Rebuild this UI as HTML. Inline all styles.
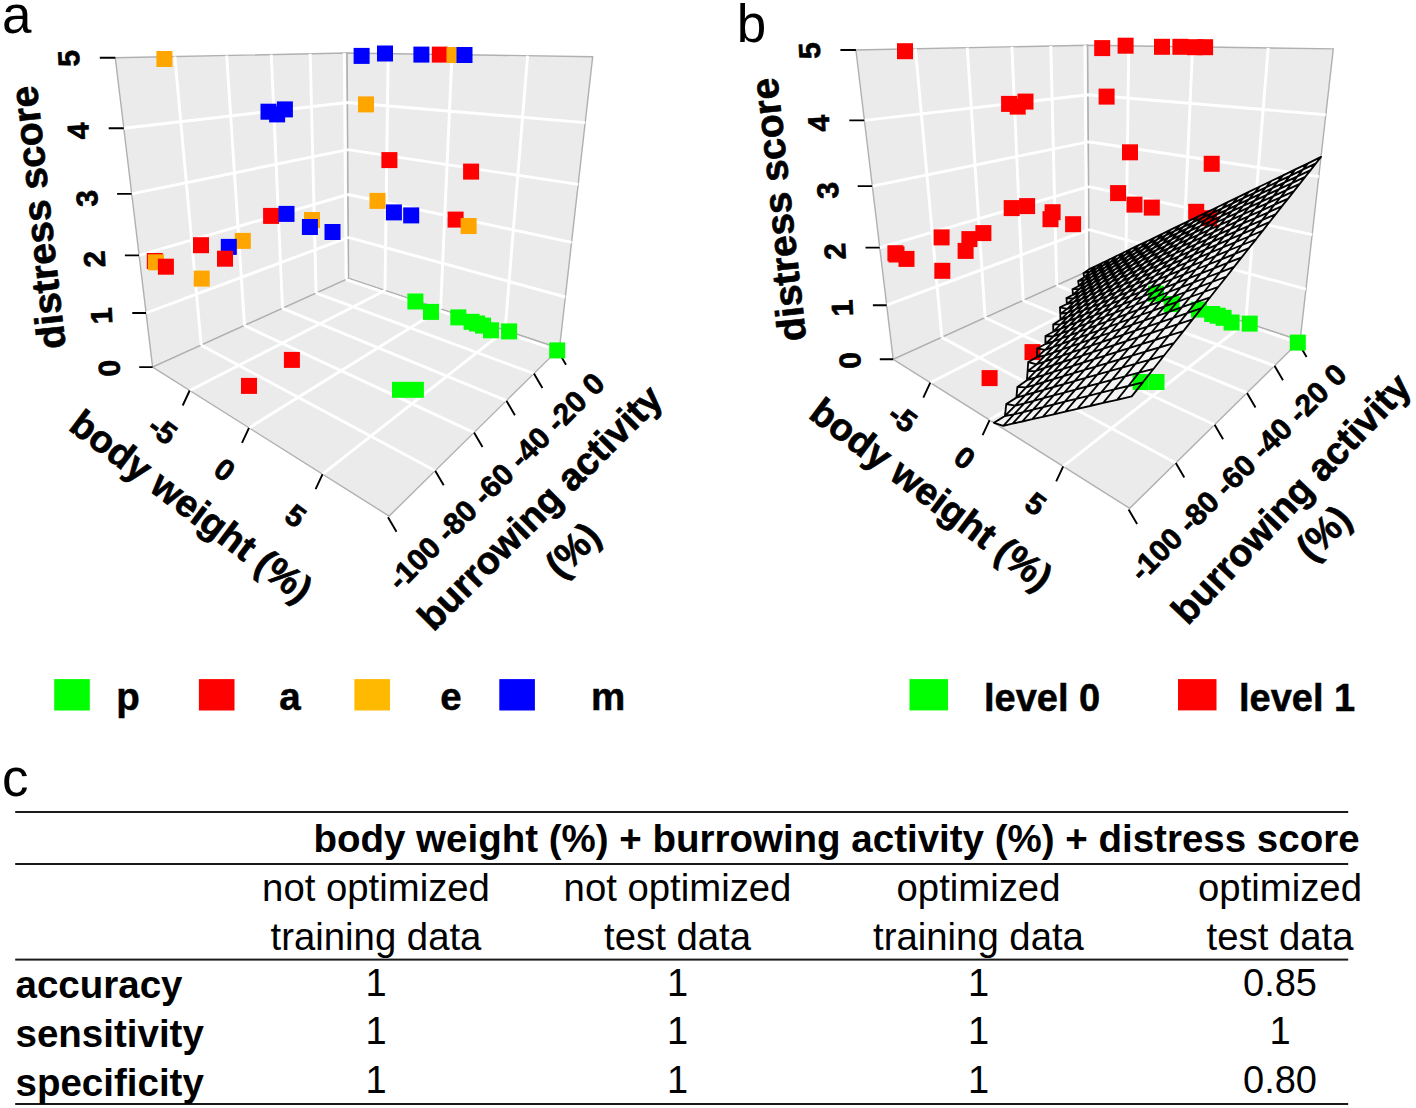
<!DOCTYPE html><html><head><meta charset="utf-8"><style>html,body{margin:0;padding:0;background:#fff;}svg{display:block;} text{font-family:"Liberation Sans",sans-serif;fill:#000;}</style></head><body>
<svg width="1416" height="1108" viewBox="0 0 1416 1108">
<text transform="translate(16.8,0) rotate(0)" x="0" y="33.3" font-size="53" font-weight="normal" text-anchor="middle">a</text>
<text transform="translate(751.5,0.0) rotate(0)" x="0" y="41.5" font-size="53" font-weight="normal" text-anchor="middle">b</text>
<text transform="translate(15.2,0.0) rotate(0)" x="0" y="795.8" font-size="53" font-weight="normal" text-anchor="middle">c</text>
<g id="pa">
<polygon points="152.6,367.1 115.3,57.8 347.1,53.0 348.6,278.4" fill="#ebebeb" stroke="#b0b0b0" stroke-width="1.4"/>
<polygon points="348.6,278.4 347.1,53.0 592.7,56.7 559.5,348.4" fill="#ebebeb" stroke="#b0b0b0" stroke-width="1.4"/>
<polygon points="152.6,367.1 348.6,278.4 559.5,348.4 389.1,516.1" fill="#ebebeb" stroke="#b0b0b0" stroke-width="1.4"/>
<path d="M201.2 345.2L174.8 56.5 M244.5 325.6L226.7 55.5 M282.5 308.4L271.3 54.6 M316.1 293.1L310.2 53.8 M346.1 279.6L344.3 53.1 M146.1 313.0L348.3 237.4 M139.1 255.4L348.0 194.5 M131.7 193.9L347.7 149.6 M123.8 128.2L347.4 102.5 M385.0 290.5L388.2 53.6 M440.6 309.0L452.0 54.6 M505.1 330.3L527.6 55.7 M348.3 237.4L565.3 297.0 M348.0 194.5L571.6 242.4 M347.7 149.6L578.2 184.4 M347.4 102.5L585.2 122.6 M189.7 390.5L385.0 290.5 M249.0 427.9L440.6 309.0 M322.6 474.2L505.1 330.3 M201.2 345.2L435.2 470.8 M244.5 325.6L474.0 432.6 M282.5 308.4L506.4 400.7 M316.1 293.1L533.9 373.6 M346.1 279.6L557.5 350.3" stroke="#ffffff" stroke-width="2.9" fill="none"/>
<path d="M139.2 367.1L152.6 367.1 M132.3 313.0L146.1 313.0 M124.9 255.4L139.1 255.4 M117.1 193.9L131.7 193.9 M108.7 128.2L123.8 128.2 M99.8 57.8L115.3 57.8 M189.7 390.5L182.7 405.5 M249.0 427.9L242.0 442.9 M322.6 474.2L315.6 489.2 M388.0 517.2L396.5 531.7 M435.2 470.8L443.7 485.3 M474.0 432.6L482.5 447.1 M506.4 400.7L514.9 415.2 M533.9 373.6L542.4 388.1 M557.5 350.3L566.0 364.8" stroke="#000" stroke-width="1.9" fill="none"/>
<rect x="353.6" y="47.9" width="16" height="16" fill="#0000ff"/>
<rect x="377.0" y="45.5" width="16" height="16" fill="#0000ff"/>
<rect x="413.4" y="46.6" width="16" height="16" fill="#0000ff"/>
<rect x="431.8" y="46.6" width="16" height="16" fill="#ff0000"/>
<rect x="446.5" y="47.0" width="16" height="16" fill="#ffa500"/>
<rect x="456.5" y="47.0" width="16" height="16" fill="#0000ff"/>
<rect x="156.4" y="51.0" width="16" height="16" fill="#ffa500"/>
<rect x="260.5" y="103.7" width="16" height="16" fill="#0000ff"/>
<rect x="269.1" y="106.4" width="16" height="16" fill="#0000ff"/>
<rect x="276.9" y="101.4" width="16" height="16" fill="#0000ff"/>
<rect x="358.0" y="96.4" width="16" height="16" fill="#ffa500"/>
<rect x="381.4" y="152.1" width="16" height="16" fill="#ff0000"/>
<rect x="463.1" y="163.6" width="16" height="16" fill="#ff0000"/>
<rect x="369.5" y="192.9" width="16" height="16" fill="#ffa500"/>
<rect x="385.9" y="204.4" width="16" height="16" fill="#0000ff"/>
<rect x="403.2" y="207.4" width="16" height="16" fill="#0000ff"/>
<rect x="447.6" y="211.6" width="16" height="16" fill="#ff0000"/>
<rect x="460.6" y="218.0" width="16" height="16" fill="#ffa500"/>
<rect x="263.1" y="207.9" width="16" height="16" fill="#ff0000"/>
<rect x="278.5" y="205.9" width="16" height="16" fill="#0000ff"/>
<rect x="304.0" y="212.0" width="16" height="16" fill="#ffa500"/>
<rect x="301.9" y="219.0" width="16" height="16" fill="#0000ff"/>
<rect x="324.5" y="224.0" width="16" height="16" fill="#0000ff"/>
<rect x="146.8" y="253.0" width="16" height="16" fill="#ff0000"/>
<rect x="147.9" y="254.3" width="16" height="16" fill="#ffa500"/>
<rect x="157.9" y="258.7" width="16" height="16" fill="#ff0000"/>
<rect x="193.0" y="237.2" width="16" height="16" fill="#ff0000"/>
<rect x="234.8" y="232.9" width="16" height="16" fill="#ffa500"/>
<rect x="220.8" y="238.9" width="16" height="16" fill="#0000ff"/>
<rect x="217.0" y="250.7" width="16" height="16" fill="#ff0000"/>
<rect x="193.7" y="270.6" width="16" height="16" fill="#ffa500"/>
<rect x="283.9" y="351.9" width="16" height="16" fill="#ff0000"/>
<rect x="241.0" y="377.9" width="16" height="16" fill="#ff0000"/>
<rect x="407.4" y="293.5" width="16" height="16" fill="#00ff00"/>
<rect x="423.0" y="303.9" width="16" height="16" fill="#00ff00"/>
<rect x="450.3" y="309.4" width="16" height="16" fill="#00ff00"/>
<rect x="463.6" y="313.8" width="16" height="16" fill="#00ff00"/>
<rect x="469.1" y="315.5" width="16" height="16" fill="#00ff00"/>
<rect x="475.0" y="317.6" width="16" height="16" fill="#00ff00"/>
<rect x="483.0" y="322.3" width="16" height="16" fill="#00ff00"/>
<rect x="501.1" y="323.4" width="16" height="16" fill="#00ff00"/>
<rect x="549.2" y="342.4" width="16" height="16" fill="#00ff00"/>
<rect x="392.0" y="381.8" width="16" height="16" fill="#00ff00"/>
<rect x="407.9" y="381.8" width="16" height="16" fill="#00ff00"/>
</g>
<text transform="translate(37.6,217.5) rotate(-96.3)" x="0" y="13.6" font-size="39" font-weight="bold" text-anchor="middle" stroke="#000" stroke-width="0.7">distress score</text>
<text transform="translate(109.2,368.2) rotate(-92.7)" x="0" y="10.5" font-size="30" font-weight="bold" text-anchor="middle" stroke="#000" stroke-width="0.7">0</text>
<text transform="translate(101.4,316.0) rotate(-92.7)" x="0" y="10.5" font-size="30" font-weight="bold" text-anchor="middle" stroke="#000" stroke-width="0.7">1</text>
<text transform="translate(94.3,259.1) rotate(-92.7)" x="0" y="10.5" font-size="30" font-weight="bold" text-anchor="middle" stroke="#000" stroke-width="0.7">2</text>
<text transform="translate(86.9,198.3) rotate(-92.7)" x="0" y="10.5" font-size="30" font-weight="bold" text-anchor="middle" stroke="#000" stroke-width="0.7">3</text>
<text transform="translate(78.1,131.1) rotate(-92.7)" x="0" y="10.5" font-size="30" font-weight="bold" text-anchor="middle" stroke="#000" stroke-width="0.7">4</text>
<text transform="translate(68.7,58.5) rotate(-92.7)" x="0" y="10.5" font-size="30" font-weight="bold" text-anchor="middle" stroke="#000" stroke-width="0.7">5</text>
<text transform="translate(191.5,506.0) rotate(37)" x="0" y="13.3" font-size="38" font-weight="bold" text-anchor="middle" stroke="#000" stroke-width="0.7">body weight (%)</text>
<text transform="translate(162.7,429.9) rotate(36.5)" x="0" y="10.5" font-size="30" font-weight="bold" text-anchor="middle" stroke="#000" stroke-width="0.7">-5</text>
<text transform="translate(224.8,469.8) rotate(36.5)" x="0" y="10.5" font-size="30" font-weight="bold" text-anchor="middle" stroke="#000" stroke-width="0.7">0</text>
<text transform="translate(295.8,515.8) rotate(36.5)" x="0" y="10.5" font-size="30" font-weight="bold" text-anchor="middle" stroke="#000" stroke-width="0.7">5</text>
<text transform="translate(495.9,481.2) rotate(-45)" x="0" y="10.5" font-size="30" font-weight="bold" text-anchor="middle" stroke="#000" stroke-width="0.7">-100 -80 -60 -40 -20 0</text>
<text transform="translate(539.7,507.3) rotate(-45)" x="0" y="13.3" font-size="38" font-weight="bold" text-anchor="middle" stroke="#000" stroke-width="0.7">burrowing activity</text>
<text transform="translate(572.4,549.8) rotate(-45)" x="0" y="13.3" font-size="38" font-weight="bold" text-anchor="middle" stroke="#000" stroke-width="0.7">(%)</text>
<g transform="translate(740.6,-7.8)">
<polygon points="152.6,367.1 115.3,57.8 347.1,53.0 348.6,278.4" fill="#ebebeb" stroke="#b0b0b0" stroke-width="1.4"/>
<polygon points="348.6,278.4 347.1,53.0 592.7,56.7 559.5,348.4" fill="#ebebeb" stroke="#b0b0b0" stroke-width="1.4"/>
<polygon points="152.6,367.1 348.6,278.4 559.5,348.4 389.1,516.1" fill="#ebebeb" stroke="#b0b0b0" stroke-width="1.4"/>
<path d="M201.2 345.2L174.8 56.5 M244.5 325.6L226.7 55.5 M282.5 308.4L271.3 54.6 M316.1 293.1L310.2 53.8 M346.1 279.6L344.3 53.1 M146.1 313.0L348.3 237.4 M139.1 255.4L348.0 194.5 M131.7 193.9L347.7 149.6 M123.8 128.2L347.4 102.5 M385.0 290.5L388.2 53.6 M440.6 309.0L452.0 54.6 M505.1 330.3L527.6 55.7 M348.3 237.4L565.3 297.0 M348.0 194.5L571.6 242.4 M347.7 149.6L578.2 184.4 M347.4 102.5L585.2 122.6 M189.7 390.5L385.0 290.5 M249.0 427.9L440.6 309.0 M322.6 474.2L505.1 330.3 M201.2 345.2L435.2 470.8 M244.5 325.6L474.0 432.6 M282.5 308.4L506.4 400.7 M316.1 293.1L533.9 373.6 M346.1 279.6L557.5 350.3" stroke="#ffffff" stroke-width="2.9" fill="none"/>
<path d="M139.2 367.1L152.6 367.1 M132.3 313.0L146.1 313.0 M124.9 255.4L139.1 255.4 M117.1 193.9L131.7 193.9 M108.7 128.2L123.8 128.2 M99.8 57.8L115.3 57.8 M189.7 390.5L182.7 405.5 M249.0 427.9L242.0 442.9 M322.6 474.2L315.6 489.2 M388.0 517.2L396.5 531.7 M435.2 470.8L443.7 485.3 M474.0 432.6L482.5 447.1 M506.4 400.7L514.9 415.2 M533.9 373.6L542.4 388.1 M557.5 350.3L566.0 364.8" stroke="#000" stroke-width="1.9" fill="none"/>
<path d="M343.6 285.2L349.4 279.4L342.9 281.0Z M342.9 281.0L349.4 279.4L355.2 273.9L348.6 277.0Z M338.2 293.8L344.3 287.8L337.6 288.8Z M337.6 288.8L344.3 287.8L350.3 282.0L343.6 285.2Z M343.6 285.2L350.3 282.0L356.1 276.2L349.4 279.4Z M349.4 279.4L356.1 276.2L361.9 270.6L355.2 273.9Z M332.4 302.6L338.8 296.8L331.9 297.0Z M331.9 297.0L338.8 296.8L345.0 290.6L338.2 293.8Z M338.2 293.8L345.0 290.6L351.1 284.6L344.3 287.8Z M344.3 287.8L351.1 284.6L357.1 278.7L350.3 282.0Z M350.3 282.0L357.1 278.7L363.0 272.9L356.1 276.2Z M356.1 276.2L363.0 272.9L368.8 267.3L361.9 270.6Z M326.3 311.8L332.9 306.3L325.9 305.8Z M325.9 305.8L332.9 306.3L339.5 299.9L332.4 302.6Z M332.4 302.6L339.5 299.9L345.8 293.6L338.8 296.8Z M338.8 296.8L345.8 293.6L352.1 287.4L345.0 290.6Z M345.0 290.6L352.1 287.4L358.2 281.3L351.1 284.6Z M351.1 284.6L358.2 281.3L364.2 275.4L357.1 278.7Z M357.1 278.7L364.2 275.4L370.1 269.6L363.0 272.9Z M363.0 272.9L370.1 269.6L375.8 263.8L368.8 267.3Z M319.7 321.7L326.7 316.6L319.4 315.2Z M319.4 315.2L326.7 316.6L333.5 309.8L326.3 311.8Z M326.3 311.8L333.5 309.8L340.1 303.2L332.9 306.3Z M332.9 306.3L340.1 303.2L346.7 296.7L339.5 299.9Z M339.5 299.9L346.7 296.7L353.0 290.3L345.8 293.6Z M345.8 293.6L353.0 290.3L359.3 284.1L352.1 287.4Z M352.1 287.4L359.3 284.1L365.4 277.9L358.2 281.3Z M358.2 281.3L365.4 277.9L371.4 272.0L364.2 275.4Z M364.2 275.4L371.4 272.0L377.3 266.1L370.1 269.6Z M370.1 269.6L377.3 266.1L383.1 260.3L375.8 263.8Z M319.9 327.6L327.1 320.4L319.7 321.7Z M319.7 321.7L327.1 320.4L334.0 313.4L326.7 316.6Z M326.7 316.6L334.0 313.4L340.9 306.6L333.5 309.8Z M333.5 309.8L340.9 306.6L347.5 299.9L340.1 303.2Z M340.1 303.2L347.5 299.9L354.1 293.3L346.7 296.7Z M346.7 296.7L354.1 293.3L360.4 286.9L353.0 290.3Z M353.0 290.3L360.4 286.9L366.7 280.6L359.3 284.1Z M359.3 284.1L366.7 280.6L372.8 274.5L365.4 277.9Z M365.4 277.9L372.8 274.5L378.8 268.4L371.4 272.0Z M371.4 272.0L378.8 268.4L384.7 262.5L377.3 266.1Z M377.3 266.1L384.7 262.5L390.5 256.7L383.1 260.3Z M312.7 339.5L320.2 331.9L312.6 332.4Z M312.6 332.4L320.2 331.9L327.5 324.5L319.9 327.6Z M319.9 327.6L327.5 324.5L334.6 317.3L327.1 320.4Z M327.1 320.4L334.6 317.3L341.6 310.2L334.0 313.4Z M334.0 313.4L341.6 310.2L348.4 303.3L340.9 306.6Z M340.9 306.6L348.4 303.3L355.1 296.5L347.5 299.9Z M347.5 299.9L355.1 296.5L361.7 289.9L354.1 293.3Z M354.1 293.3L361.7 289.9L368.1 283.4L360.4 286.9Z M360.4 286.9L368.1 283.4L374.3 277.1L366.7 280.6Z M366.7 280.6L374.3 277.1L380.5 270.9L372.8 274.5Z M372.8 274.5L380.5 270.9L386.5 264.8L378.8 268.4Z M378.8 268.4L386.5 264.8L392.3 258.9L384.7 262.5Z M384.7 262.5L392.3 258.9L398.1 253.0L390.5 256.7Z M304.8 351.8L312.7 344.3L304.9 343.8Z M304.9 343.8L312.7 344.3L320.4 336.4L312.7 339.5Z M312.7 339.5L320.4 336.4L327.9 328.8L320.2 331.9Z M320.2 331.9L327.9 328.8L335.2 321.3L327.5 324.5Z M327.5 324.5L335.2 321.3L342.4 314.0L334.6 317.3Z M334.6 317.3L342.4 314.0L349.4 306.9L341.6 310.2Z M341.6 310.2L349.4 306.9L356.2 299.9L348.4 303.3Z M348.4 303.3L356.2 299.9L362.9 293.1L355.1 296.5Z M355.1 296.5L362.9 293.1L369.5 286.4L361.7 289.9Z M361.7 289.9L369.5 286.4L375.9 279.9L368.1 283.4Z M368.1 283.4L375.9 279.9L382.2 273.5L374.3 277.1Z M374.3 277.1L382.2 273.5L388.3 267.2L380.5 270.9Z M380.5 270.9L388.3 267.2L394.3 261.1L386.5 264.8Z M386.5 264.8L394.3 261.1L400.2 255.1L392.3 258.9Z M392.3 258.9L400.2 255.1L405.9 249.3L398.1 253.0Z M296.3 364.9L304.6 357.6L296.6 356.3Z M296.6 356.3L304.6 357.6L312.7 349.3L304.8 351.8Z M304.8 351.8L312.7 349.3L320.6 341.2L312.7 344.3Z M312.7 344.3L320.6 341.2L328.4 333.3L320.4 336.4Z M320.4 336.4L328.4 333.3L335.9 325.6L327.9 328.8Z M327.9 328.8L335.9 325.6L343.2 318.0L335.2 321.3Z M335.2 321.3L343.2 318.0L350.4 310.6L342.4 314.0Z M342.4 314.0L350.4 310.6L357.4 303.4L349.4 306.9Z M349.4 306.9L357.4 303.4L364.3 296.4L356.2 299.9Z M356.2 299.9L364.3 296.4L371.0 289.5L362.9 293.1Z M362.9 293.1L371.0 289.5L377.5 282.8L369.5 286.4Z M369.5 286.4L377.5 282.8L384.0 276.2L375.9 279.9Z M375.9 279.9L384.0 276.2L390.2 269.8L382.2 273.5Z M382.2 273.5L390.2 269.8L396.4 263.5L388.3 267.2Z M388.3 267.2L396.4 263.5L402.4 257.3L394.3 261.1Z M394.3 261.1L402.4 257.3L408.2 251.3L400.2 255.1Z M400.2 255.1L408.2 251.3L414.0 245.4L405.9 249.3Z M287.0 379.1L295.9 372.2L287.6 369.8Z M287.6 369.8L295.9 372.2L304.4 363.3L296.3 364.9Z M296.3 364.9L304.4 363.3L312.8 354.7L304.6 357.6Z M304.6 357.6L312.8 354.7L320.9 346.3L312.7 349.3Z M312.7 349.3L320.9 346.3L328.8 338.1L320.6 341.2Z M320.6 341.2L328.8 338.1L336.6 330.0L328.4 333.3Z M328.4 333.3L336.6 330.0L344.1 322.2L335.9 325.6Z M335.9 325.6L344.1 322.2L351.5 314.6L343.2 318.0Z M343.2 318.0L351.5 314.6L358.7 307.2L350.4 310.6Z M350.4 310.6L358.7 307.2L365.7 299.9L357.4 303.4Z M357.4 303.4L365.7 299.9L372.6 292.8L364.3 296.4Z M364.3 296.4L372.6 292.8L379.3 285.8L371.0 289.5Z M371.0 289.5L379.3 285.8L385.8 279.0L377.5 282.8Z M377.5 282.8L385.8 279.0L392.2 272.4L384.0 276.2Z M384.0 276.2L392.2 272.4L398.5 265.9L390.2 269.8Z M390.2 269.8L398.5 265.9L404.6 259.6L396.4 263.5Z M396.4 263.5L404.6 259.6L410.6 253.4L402.4 257.3Z M402.4 257.3L410.6 253.4L416.5 247.3L408.2 251.3Z M408.2 251.3L416.5 247.3L422.2 241.4L414.0 245.4Z M286.3 388.0L295.4 378.6L287.0 379.1Z M287.0 379.1L295.4 378.6L304.2 369.3L295.9 372.2Z M295.9 372.2L304.2 369.3L312.8 360.4L304.4 363.3Z M304.4 363.3L312.8 360.4L321.2 351.6L312.8 354.7Z M312.8 354.7L321.2 351.6L329.3 343.1L320.9 346.3Z M320.9 346.3L329.3 343.1L337.3 334.8L328.8 338.1Z M328.8 338.1L337.3 334.8L345.1 326.7L336.6 330.0Z M336.6 330.0L345.1 326.7L352.6 318.8L344.1 322.2Z M344.1 322.2L352.6 318.8L360.0 311.1L351.5 314.6Z M351.5 314.6L360.0 311.1L367.2 303.6L358.7 307.2Z M358.7 307.2L367.2 303.6L374.2 296.2L365.7 299.9Z M365.7 299.9L374.2 296.2L381.1 289.1L372.6 292.8Z M372.6 292.8L381.1 289.1L387.8 282.1L379.3 285.8Z M379.3 285.8L387.8 282.1L394.4 275.2L385.8 279.0Z M385.8 279.0L394.4 275.2L400.8 268.5L392.2 272.4Z M392.2 272.4L400.8 268.5L407.0 262.0L398.5 265.9Z M398.5 265.9L407.0 262.0L413.2 255.6L404.6 259.6Z M404.6 259.6L413.2 255.6L419.1 249.3L410.6 253.4Z M410.6 253.4L419.1 249.3L425.0 243.2L416.5 247.3Z M416.5 247.3L425.0 243.2L430.7 237.2L422.2 241.4Z M275.8 405.4L285.5 395.2L276.8 394.7Z M276.8 394.7L285.5 395.2L294.9 385.3L286.3 388.0Z M286.3 388.0L294.9 385.3L304.0 375.7L295.4 378.6Z M295.4 378.6L304.0 375.7L312.8 366.4L304.2 369.3Z M304.2 369.3L312.8 366.4L321.5 357.3L312.8 360.4Z M312.8 360.4L321.5 357.3L329.9 348.5L321.2 351.6Z M321.2 351.6L329.9 348.5L338.1 339.8L329.3 343.1Z M329.3 343.1L338.1 339.8L346.0 331.4L337.3 334.8Z M337.3 334.8L346.0 331.4L353.8 323.2L345.1 326.7Z M345.1 326.7L353.8 323.2L361.4 315.3L352.6 318.8Z M352.6 318.8L361.4 315.3L368.8 307.5L360.0 311.1Z M360.0 311.1L368.8 307.5L376.0 299.9L367.2 303.6Z M367.2 303.6L376.0 299.9L383.0 292.5L374.2 296.2Z M374.2 296.2L383.0 292.5L389.9 285.2L381.1 289.1Z M381.1 289.1L389.9 285.2L396.6 278.2L387.8 282.1Z M387.8 282.1L396.6 278.2L403.2 271.3L394.4 275.2Z M394.4 275.2L403.2 271.3L409.6 264.5L400.8 268.5Z M400.8 268.5L409.6 264.5L415.8 257.9L407.0 262.0Z M407.0 262.0L415.8 257.9L421.9 251.5L413.2 255.6Z M413.2 255.6L421.9 251.5L427.9 245.2L419.1 249.3Z M419.1 249.3L427.9 245.2L433.7 239.0L425.0 243.2Z M425.0 243.2L433.7 239.0L439.5 233.0L430.7 237.2Z M264.3 423.8L274.6 413.5L265.7 411.8Z M265.7 411.8L274.6 413.5L284.6 402.9L275.8 405.4Z M275.8 405.4L284.6 402.9L294.3 392.6L285.5 395.2Z M285.5 395.2L294.3 392.6L303.7 382.6L294.9 385.3Z M294.9 385.3L303.7 382.6L312.9 372.8L304.0 375.7Z M304.0 375.7L312.9 372.8L321.8 363.4L312.8 366.4Z M312.8 366.4L321.8 363.4L330.4 354.1L321.5 357.3Z M321.5 357.3L330.4 354.1L338.9 345.2L329.9 348.5Z M329.9 348.5L338.9 345.2L347.1 336.4L338.1 339.8Z M338.1 339.8L347.1 336.4L355.1 327.9L346.0 331.4Z M346.0 331.4L355.1 327.9L362.9 319.7L353.8 323.2Z M353.8 323.2L362.9 319.7L370.5 311.6L361.4 315.3Z M361.4 315.3L370.5 311.6L377.9 303.7L368.8 307.5Z M368.8 307.5L377.9 303.7L385.1 296.1L376.0 299.9Z M376.0 299.9L385.1 296.1L392.1 288.6L383.0 292.5Z M383.0 292.5L392.1 288.6L399.0 281.3L389.9 285.2Z M389.9 285.2L399.0 281.3L405.7 274.1L396.6 278.2Z M396.6 278.2L405.7 274.1L412.2 267.2L403.2 271.3Z M403.2 271.3L412.2 267.2L418.6 260.4L409.6 264.5Z M409.6 264.5L418.6 260.4L424.9 253.8L415.8 257.9Z M415.8 257.9L424.9 253.8L431.0 247.3L421.9 251.5Z M421.9 251.5L431.0 247.3L436.9 240.9L427.9 245.2Z M427.9 245.2L436.9 240.9L442.7 234.7L433.7 239.0Z M433.7 239.0L442.7 234.7L448.4 228.7L439.5 233.0Z M253.4 430.6L262.7 433.7L273.3 422.2L264.3 423.8Z M264.3 423.8L273.3 422.2L283.7 411.1L274.6 413.5Z M274.6 413.5L283.7 411.1L293.7 400.3L284.6 402.9Z M284.6 402.9L293.7 400.3L303.5 389.8L294.3 392.6Z M294.3 392.6L303.5 389.8L312.9 379.7L303.7 382.6Z M303.7 382.6L312.9 379.7L322.1 369.8L312.9 372.8Z M312.9 372.8L322.1 369.8L331.1 360.2L321.8 363.4Z M321.8 363.4L331.1 360.2L339.7 350.9L330.4 354.1Z M330.4 354.1L339.7 350.9L348.2 341.8L338.9 345.2Z M338.9 345.2L348.2 341.8L356.4 332.9L347.1 336.4Z M347.1 336.4L356.4 332.9L364.4 324.3L355.1 327.9Z M355.1 327.9L364.4 324.3L372.2 316.0L362.9 319.7Z M362.9 319.7L372.2 316.0L379.8 307.8L370.5 311.6Z M370.5 311.6L379.8 307.8L387.2 299.9L377.9 303.7Z M377.9 303.7L387.2 299.9L394.4 292.1L385.1 296.1Z M385.1 296.1L394.4 292.1L401.5 284.6L392.1 288.6Z M392.1 288.6L401.5 284.6L408.3 277.2L399.0 281.3Z M399.0 281.3L408.3 277.2L415.0 270.0L405.7 274.1Z M405.7 274.1L415.0 270.0L421.6 263.0L412.2 267.2Z M412.2 267.2L421.6 263.0L427.9 256.1L418.6 260.4Z M418.6 260.4L427.9 256.1L434.2 249.4L424.9 253.8Z M424.9 253.8L434.2 249.4L440.3 242.9L431.0 247.3Z M431.0 247.3L440.3 242.9L446.2 236.5L436.9 240.9Z M436.9 240.9L446.2 236.5L452.0 230.3L442.7 234.7Z M442.7 234.7L452.0 230.3L457.7 224.2L448.4 228.7Z M262.7 433.7L271.9 431.5L282.7 419.9L273.3 422.2Z M273.3 422.2L282.7 419.9L293.1 408.6L283.7 411.1Z M283.7 411.1L293.1 408.6L303.2 397.6L293.7 400.3Z M293.7 400.3L303.2 397.6L313.0 387.0L303.5 389.8Z M303.5 389.8L313.0 387.0L322.5 376.7L312.9 379.7Z M312.9 379.7L322.5 376.7L331.7 366.6L322.1 369.8Z M322.1 369.8L331.7 366.6L340.7 356.9L331.1 360.2Z M331.1 360.2L340.7 356.9L349.4 347.5L339.7 350.9Z M339.7 350.9L349.4 347.5L357.9 338.3L348.2 341.8Z M348.2 341.8L357.9 338.3L366.1 329.3L356.4 332.9Z M356.4 332.9L366.1 329.3L374.1 320.6L364.4 324.3Z M364.4 324.3L374.1 320.6L381.9 312.2L372.2 316.0Z M372.2 316.0L381.9 312.2L389.5 303.9L379.8 307.8Z M379.8 307.8L389.5 303.9L396.9 295.9L387.2 299.9Z M387.2 299.9L396.9 295.9L404.1 288.0L394.4 292.1Z M394.4 292.1L404.1 288.0L411.1 280.4L401.5 284.6Z M401.5 284.6L411.1 280.4L418.0 273.0L408.3 277.2Z M408.3 277.2L418.0 273.0L424.7 265.7L415.0 270.0Z M415.0 270.0L424.7 265.7L431.2 258.7L421.6 263.0Z M421.6 263.0L431.2 258.7L437.6 251.8L427.9 256.1Z M427.9 256.1L437.6 251.8L443.8 245.0L434.2 249.4Z M434.2 249.4L443.8 245.0L449.8 238.4L440.3 242.9Z M440.3 242.9L449.8 238.4L455.8 232.0L446.2 236.5Z M446.2 236.5L455.8 232.0L461.5 225.7L452.0 230.3Z M452.0 230.3L461.5 225.7L467.2 219.6L457.7 224.2Z M271.9 431.5L281.6 429.3L292.4 417.5L282.7 419.9Z M282.7 419.9L292.4 417.5L302.9 406.0L293.1 408.6Z M293.1 408.6L302.9 406.0L313.0 394.8L303.2 397.6Z M303.2 397.6L313.0 394.8L322.9 384.0L313.0 387.0Z M313.0 387.0L322.9 384.0L332.4 373.6L322.5 376.7Z M322.5 376.7L332.4 373.6L341.7 363.4L331.7 366.6Z M331.7 366.6L341.7 363.4L350.7 353.5L340.7 356.9Z M340.7 356.9L350.7 353.5L359.4 343.9L349.4 347.5Z M349.4 347.5L359.4 343.9L367.9 334.6L357.9 338.3Z M357.9 338.3L367.9 334.6L376.1 325.6L366.1 329.3Z M366.1 329.3L376.1 325.6L384.1 316.8L374.1 320.6Z M374.1 320.6L384.1 316.8L391.9 308.2L381.9 312.2Z M381.9 312.2L391.9 308.2L399.5 299.9L389.5 303.9Z M389.5 303.9L399.5 299.9L406.9 291.7L396.9 295.9Z M396.9 295.9L406.9 291.7L414.1 283.8L404.1 288.0Z M404.1 288.0L414.1 283.8L421.1 276.1L411.1 280.4Z M411.1 280.4L421.1 276.1L428.0 268.6L418.0 273.0Z M418.0 273.0L428.0 268.6L434.6 261.3L424.7 265.7Z M424.7 265.7L434.6 261.3L441.1 254.2L431.2 258.7Z M431.2 258.7L441.1 254.2L447.5 247.2L437.6 251.8Z M437.6 251.8L447.5 247.2L453.7 240.4L443.8 245.0Z M443.8 245.0L453.7 240.4L459.7 233.8L449.8 238.4Z M449.8 238.4L459.7 233.8L465.6 227.3L455.8 232.0Z M455.8 232.0L465.6 227.3L471.4 221.0L461.5 225.7Z M461.5 225.7L471.4 221.0L477.0 214.8L467.2 219.6Z M281.6 429.3L291.7 427.0L302.6 414.9L292.4 417.5Z M292.4 417.5L302.6 414.9L313.1 403.2L302.9 406.0Z M302.9 406.0L313.1 403.2L323.3 391.9L313.0 394.8Z M313.0 394.8L323.3 391.9L333.1 380.9L322.9 384.0Z M322.9 384.0L333.1 380.9L342.7 370.3L332.4 373.6Z M332.4 373.6L342.7 370.3L352.0 360.0L341.7 363.4Z M341.7 363.4L352.0 360.0L361.0 350.0L350.7 353.5Z M350.7 353.5L361.0 350.0L369.8 340.3L359.4 343.9Z M359.4 343.9L369.8 340.3L378.3 330.8L367.9 334.6Z M367.9 334.6L378.3 330.8L386.5 321.7L376.1 325.6Z M376.1 325.6L386.5 321.7L394.5 312.8L384.1 316.8Z M384.1 316.8L394.5 312.8L402.3 304.1L391.9 308.2Z M391.9 308.2L402.3 304.1L409.9 295.7L399.5 299.9Z M399.5 299.9L409.9 295.7L417.3 287.5L406.9 291.7Z M406.9 291.7L417.3 287.5L424.5 279.5L414.1 283.8Z M414.1 283.8L424.5 279.5L431.5 271.7L421.1 276.1Z M421.1 276.1L431.5 271.7L438.3 264.1L428.0 268.6Z M428.0 268.6L438.3 264.1L444.9 256.8L434.6 261.3Z M434.6 261.3L444.9 256.8L451.4 249.6L441.1 254.2Z M441.1 254.2L451.4 249.6L457.7 242.6L447.5 247.2Z M447.5 247.2L457.7 242.6L463.9 235.7L453.7 240.4Z M453.7 240.4L463.9 235.7L469.9 229.0L459.7 233.8Z M459.7 233.8L469.9 229.0L475.8 222.5L465.6 227.3Z M465.6 227.3L475.8 222.5L481.5 216.2L471.4 221.0Z M471.4 221.0L481.5 216.2L487.1 209.9L477.0 214.8Z M291.7 427.0L302.2 424.6L313.1 412.3L302.6 414.9Z M302.6 414.9L313.1 412.3L323.7 400.4L313.1 403.2Z M313.1 403.2L323.7 400.4L333.9 388.9L323.3 391.9Z M323.3 391.9L333.9 388.9L343.9 377.7L333.1 380.9Z M333.1 380.9L343.9 377.7L353.5 366.9L342.7 370.3Z M342.7 370.3L353.5 366.9L362.8 356.5L352.0 360.0Z M352.0 360.0L362.8 356.5L371.8 346.3L361.0 350.0Z M361.0 350.0L371.8 346.3L380.5 336.5L369.8 340.3Z M369.8 340.3L380.5 336.5L389.0 326.9L378.3 330.8Z M378.3 330.8L389.0 326.9L397.3 317.6L386.5 321.7Z M386.5 321.7L397.3 317.6L405.3 308.6L394.5 312.8Z M394.5 312.8L405.3 308.6L413.1 299.9L402.3 304.1Z M402.3 304.1L413.1 299.9L420.7 291.3L409.9 295.7Z M409.9 295.7L420.7 291.3L428.0 283.0L417.3 287.5Z M417.3 287.5L428.0 283.0L435.2 275.0L424.5 279.5Z M424.5 279.5L435.2 275.0L442.2 267.1L431.5 271.7Z M431.5 271.7L442.2 267.1L449.0 259.5L438.3 264.1Z M438.3 264.1L449.0 259.5L455.6 252.0L444.9 256.8Z M444.9 256.8L455.6 252.0L462.0 244.8L451.4 249.6Z M451.4 249.6L462.0 244.8L468.3 237.7L457.7 242.6Z M457.7 242.6L468.3 237.7L474.4 230.8L463.9 235.7Z M463.9 235.7L474.4 230.8L480.4 224.1L469.9 229.0Z M469.9 229.0L480.4 224.1L486.3 217.6L475.8 222.5Z M475.8 222.5L486.3 217.6L491.9 211.2L481.5 216.2Z M481.5 216.2L491.9 211.2L497.5 204.9L487.1 209.9Z M302.2 424.6L313.2 422.1L324.2 409.5L313.1 412.3Z M313.1 412.3L324.2 409.5L334.8 397.4L323.7 400.4Z M323.7 400.4L334.8 397.4L345.1 385.7L333.9 388.9Z M333.9 388.9L345.1 385.7L355.0 374.4L343.9 377.7Z M343.9 377.7L355.0 374.4L364.6 363.4L353.5 366.9Z M353.5 366.9L364.6 363.4L374.0 352.8L362.8 356.5Z M362.8 356.5L374.0 352.8L383.0 342.5L371.8 346.3Z M371.8 346.3L383.0 342.5L391.7 332.5L380.5 336.5Z M380.5 336.5L391.7 332.5L400.2 322.8L389.0 326.9Z M389.0 326.9L400.2 322.8L408.5 313.4L397.3 317.6Z M397.3 317.6L408.5 313.4L416.5 304.3L405.3 308.6Z M405.3 308.6L416.5 304.3L424.3 295.4L413.1 299.9Z M413.1 299.9L424.3 295.4L431.8 286.8L420.7 291.3Z M420.7 291.3L431.8 286.8L439.2 278.5L428.0 283.0Z M428.0 283.0L439.2 278.5L446.3 270.3L435.2 275.0Z M435.2 275.0L446.3 270.3L453.2 262.4L442.2 267.1Z M442.2 267.1L453.2 262.4L460.0 254.7L449.0 259.5Z M449.0 259.5L460.0 254.7L466.6 247.2L455.6 252.0Z M455.6 252.0L466.6 247.2L473.0 239.9L462.0 244.8Z M462.0 244.8L473.0 239.9L479.3 232.7L468.3 237.7Z M468.3 237.7L479.3 232.7L485.3 225.8L474.4 230.8Z M474.4 230.8L485.3 225.8L491.3 219.0L480.4 224.1Z M480.4 224.1L491.3 219.0L497.1 212.4L486.3 217.6Z M486.3 217.6L497.1 212.4L502.7 206.0L491.9 211.2Z M491.9 211.2L502.7 206.0L508.2 199.7L497.5 204.9Z M313.2 422.1L324.7 419.4L335.7 406.7L324.2 409.5Z M324.2 409.5L335.7 406.7L346.4 394.3L334.8 397.4Z M334.8 397.4L346.4 394.3L356.7 382.4L345.1 385.7Z M345.1 385.7L356.7 382.4L366.7 370.9L355.0 374.4Z M355.0 374.4L366.7 370.9L376.3 359.8L364.6 363.4Z M364.6 363.4L376.3 359.8L385.6 349.0L374.0 352.8Z M374.0 352.8L385.6 349.0L394.6 338.5L383.0 342.5Z M383.0 342.5L394.6 338.5L403.4 328.4L391.7 332.5Z M391.7 332.5L403.4 328.4L411.9 318.6L400.2 322.8Z M400.2 322.8L411.9 318.6L420.1 309.1L408.5 313.4Z M408.5 313.4L420.1 309.1L428.1 299.8L416.5 304.3Z M416.5 304.3L428.1 299.8L435.8 290.9L424.3 295.4Z M424.3 295.4L435.8 290.9L443.4 282.2L431.8 286.8Z M431.8 286.8L443.4 282.2L450.7 273.7L439.2 278.5Z M439.2 278.5L450.7 273.7L457.8 265.5L446.3 270.3Z M446.3 270.3L457.8 265.5L464.7 257.5L453.2 262.4Z M453.2 262.4L464.7 257.5L471.4 249.7L460.0 254.7Z M460.0 254.7L471.4 249.7L478.0 242.1L466.6 247.2Z M466.6 247.2L478.0 242.1L484.4 234.8L473.0 239.9Z M473.0 239.9L484.4 234.8L490.6 227.6L479.3 232.7Z M479.3 232.7L490.6 227.6L496.6 220.6L485.3 225.8Z M485.3 225.8L496.6 220.6L502.5 213.8L491.3 219.0Z M491.3 219.0L502.5 213.8L508.2 207.1L497.1 212.4Z M497.1 212.4L508.2 207.1L513.8 200.7L502.7 206.0Z M502.7 206.0L513.8 200.7L519.3 194.3L508.2 199.7Z M324.7 419.4L336.7 416.7L347.8 403.7L335.7 406.7Z M335.7 406.7L347.8 403.7L358.5 391.1L346.4 394.3Z M346.4 394.3L358.5 391.1L368.8 379.0L356.7 382.4Z M356.7 382.4L368.8 379.0L378.8 367.3L366.7 370.9Z M366.7 370.9L378.8 367.3L388.4 356.0L376.3 359.8Z M376.3 359.8L388.4 356.0L397.8 345.0L385.6 349.0Z M385.6 349.0L397.8 345.0L406.8 334.4L394.6 338.5Z M394.6 338.5L406.8 334.4L415.5 324.1L403.4 328.4Z M403.4 328.4L415.5 324.1L424.0 314.2L411.9 318.6Z M411.9 318.6L424.0 314.2L432.2 304.6L420.1 309.1Z M420.1 309.1L432.2 304.6L440.2 295.2L428.1 299.8Z M428.1 299.8L440.2 295.2L447.9 286.1L435.8 290.9Z M435.8 290.9L447.9 286.1L455.4 277.3L443.4 282.2Z M443.4 282.2L455.4 277.3L462.7 268.8L450.7 273.7Z M450.7 273.7L462.7 268.8L469.7 260.5L457.8 265.5Z M457.8 265.5L469.7 260.5L476.6 252.4L464.7 257.5Z M464.7 257.5L476.6 252.4L483.3 244.5L471.4 249.7Z M471.4 249.7L483.3 244.5L489.8 236.9L478.0 242.1Z M478.0 242.1L489.8 236.9L496.1 229.5L484.4 234.8Z M484.4 234.8L496.1 229.5L502.3 222.3L490.6 227.6Z M490.6 227.6L502.3 222.3L508.3 215.2L496.6 220.6Z M496.6 220.6L508.3 215.2L514.1 208.4L502.5 213.8Z M502.5 213.8L514.1 208.4L519.8 201.7L508.2 207.1Z M508.2 207.1L519.8 201.7L525.3 195.2L513.8 200.7Z M513.8 200.7L525.3 195.2L530.7 188.8L519.3 194.3Z M336.7 416.7L349.4 413.8L360.5 400.5L347.8 403.7Z M347.8 403.7L360.5 400.5L371.2 387.7L358.5 391.1Z M358.5 391.1L371.2 387.7L381.5 375.4L368.8 379.0Z M368.8 379.0L381.5 375.4L391.5 363.5L378.8 367.3Z M378.8 367.3L391.5 363.5L401.1 352.0L388.4 356.0Z M388.4 356.0L401.1 352.0L410.4 340.8L397.8 345.0Z M397.8 345.0L410.4 340.8L419.4 330.1L406.8 334.4Z M406.8 334.4L419.4 330.1L428.2 319.7L415.5 324.1Z M415.5 324.1L428.2 319.7L436.6 309.6L424.0 314.2Z M424.0 314.2L436.6 309.6L444.8 299.8L432.2 304.6Z M432.2 304.6L444.8 299.8L452.7 290.4L440.2 295.2Z M440.2 295.2L452.7 290.4L460.4 281.2L447.9 286.1Z M447.9 286.1L460.4 281.2L467.8 272.3L455.4 277.3Z M455.4 277.3L467.8 272.3L475.1 263.7L462.7 268.8Z M462.7 268.8L475.1 263.7L482.1 255.3L469.7 260.5Z M469.7 260.5L482.1 255.3L488.9 247.1L476.6 252.4Z M476.6 252.4L488.9 247.1L495.5 239.2L483.3 244.5Z M483.3 244.5L495.5 239.2L502.0 231.5L489.8 236.9Z M489.8 236.9L502.0 231.5L508.3 224.0L496.1 229.5Z M496.1 229.5L508.3 224.0L514.4 216.7L502.3 222.3Z M502.3 222.3L514.4 216.7L520.3 209.6L508.3 215.2Z M508.3 215.2L520.3 209.6L526.1 202.7L514.1 208.4Z M514.1 208.4L526.1 202.7L531.7 196.0L519.8 201.7Z M519.8 201.7L531.7 196.0L537.2 189.5L525.3 195.2Z M525.3 195.2L537.2 189.5L542.5 183.1L530.7 188.8Z M349.4 413.8L362.6 410.7L373.7 397.2L360.5 400.5Z M360.5 400.5L373.7 397.2L384.5 384.2L371.2 387.7Z M371.2 387.7L384.5 384.2L394.8 371.6L381.5 375.4Z M381.5 375.4L394.8 371.6L404.8 359.5L391.5 363.5Z M391.5 363.5L404.8 359.5L414.4 347.8L401.1 352.0Z M401.1 352.0L414.4 347.8L423.7 336.5L410.4 340.8Z M410.4 340.8L423.7 336.5L432.7 325.6L419.4 330.1Z M419.4 330.1L432.7 325.6L441.3 315.0L428.2 319.7Z M428.2 319.7L441.3 315.0L449.7 304.8L436.6 309.6Z M436.6 309.6L449.7 304.8L457.9 294.9L444.8 299.8Z M444.8 299.8L457.9 294.9L465.8 285.3L452.7 290.4Z M452.7 290.4L465.8 285.3L473.4 276.1L460.4 281.2Z M460.4 281.2L473.4 276.1L480.8 267.1L467.8 272.3Z M467.8 272.3L480.8 267.1L488.0 258.3L475.1 263.7Z M475.1 263.7L488.0 258.3L494.9 249.9L482.1 255.3Z M482.1 255.3L494.9 249.9L501.7 241.6L488.9 247.1Z M488.9 247.1L501.7 241.6L508.3 233.7L495.5 239.2Z M495.5 239.2L508.3 233.7L514.7 225.9L502.0 231.5Z M502.0 231.5L514.7 225.9L520.9 218.4L508.3 224.0Z M508.3 224.0L520.9 218.4L526.9 211.0L514.4 216.7Z M514.4 216.7L526.9 211.0L532.8 203.9L520.3 209.6Z M520.3 209.6L532.8 203.9L538.5 196.9L526.1 202.7Z M526.1 202.7L538.5 196.9L544.0 190.2L531.7 196.0Z M531.7 196.0L544.0 190.2L549.5 183.6L537.2 189.5Z M537.2 189.5L549.5 183.6L554.7 177.2L542.5 183.1Z M362.6 410.7L376.5 407.6L387.7 393.8L373.7 397.2Z M373.7 397.2L387.7 393.8L398.4 380.5L384.5 384.2Z M384.5 384.2L398.4 380.5L408.7 367.7L394.8 371.6Z M394.8 371.6L408.7 367.7L418.6 355.3L404.8 359.5Z M404.8 359.5L418.6 355.3L428.2 343.5L414.4 347.8Z M414.4 347.8L428.2 343.5L437.5 332.0L423.7 336.5Z M423.7 336.5L437.5 332.0L446.5 320.9L432.7 325.6Z M432.7 325.6L446.5 320.9L455.1 310.2L441.3 315.0Z M441.3 315.0L455.1 310.2L463.4 299.8L449.7 304.8Z M449.7 304.8L463.4 299.8L471.5 289.8L457.9 294.9Z M457.9 294.9L471.5 289.8L479.4 280.1L465.8 285.3Z M465.8 285.3L479.4 280.1L486.9 270.7L473.4 276.1Z M473.4 276.1L486.9 270.7L494.3 261.6L480.8 267.1Z M480.8 267.1L494.3 261.6L501.4 252.8L488.0 258.3Z M488.0 258.3L501.4 252.8L508.3 244.3L494.9 249.9Z M494.9 249.9L508.3 244.3L515.0 236.0L501.7 241.6Z M501.7 241.6L515.0 236.0L521.5 227.9L508.3 233.7Z M508.3 233.7L521.5 227.9L527.8 220.1L514.7 225.9Z M514.7 225.9L527.8 220.1L533.9 212.5L520.9 218.4Z M520.9 218.4L533.9 212.5L539.9 205.1L526.9 211.0Z M526.9 211.0L539.9 205.1L545.7 197.9L532.8 203.9Z M532.8 203.9L545.7 197.9L551.3 190.9L538.5 196.9Z M538.5 196.9L551.3 190.9L556.8 184.1L544.0 190.2Z M544.0 190.2L556.8 184.1L562.2 177.5L549.5 183.6Z M549.5 183.6L562.2 177.5L567.4 171.1L554.7 177.2Z M376.5 407.6L391.1 404.2L402.3 390.1L387.7 393.8Z M387.7 393.8L402.3 390.1L413.0 376.6L398.4 380.5Z M398.4 380.5L413.0 376.6L423.3 363.5L408.7 367.7Z M408.7 367.7L423.3 363.5L433.2 351.0L418.6 355.3Z M418.6 355.3L433.2 351.0L442.8 338.9L428.2 343.5Z M428.2 343.5L442.8 338.9L452.0 327.2L437.5 332.0Z M437.5 332.0L452.0 327.2L460.9 316.0L446.5 320.9Z M446.5 320.9L460.9 316.0L469.5 305.1L455.1 310.2Z M455.1 310.2L469.5 305.1L477.8 294.6L463.4 299.8Z M463.4 299.8L477.8 294.6L485.8 284.5L471.5 289.8Z M471.5 289.8L485.8 284.5L493.5 274.7L479.4 280.1Z M479.4 280.1L493.5 274.7L501.0 265.2L486.9 270.7Z M486.9 270.7L501.0 265.2L508.3 256.0L494.3 261.6Z M494.3 261.6L508.3 256.0L515.4 247.1L501.4 252.8Z M501.4 252.8L515.4 247.1L522.2 238.4L508.3 244.3Z M508.3 244.3L522.2 238.4L528.8 230.0L515.0 236.0Z M515.0 236.0L528.8 230.0L535.2 221.9L521.5 227.9Z M521.5 227.9L535.2 221.9L541.4 214.0L527.8 220.1Z M527.8 220.1L541.4 214.0L547.5 206.4L533.9 212.5Z M533.9 212.5L547.5 206.4L553.4 198.9L539.9 205.1Z M539.9 205.1L553.4 198.9L559.1 191.7L545.7 197.9Z M545.7 197.9L559.1 191.7L564.6 184.7L551.3 190.9Z M551.3 190.9L564.6 184.7L570.0 177.9L556.8 184.1Z M556.8 184.1L570.0 177.9L575.3 171.2L562.2 177.5Z M562.2 177.5L575.3 171.2L580.4 164.7L567.4 171.1Z" fill="#f4f4f4" stroke="none"/>
<rect x="353.6" y="47.9" width="16" height="16" fill="#ff0000"/>
<rect x="377.0" y="45.5" width="16" height="16" fill="#ff0000"/>
<rect x="413.4" y="46.6" width="16" height="16" fill="#ff0000"/>
<rect x="431.8" y="46.6" width="16" height="16" fill="#ff0000"/>
<rect x="446.5" y="47.0" width="16" height="16" fill="#ff0000"/>
<rect x="456.5" y="47.0" width="16" height="16" fill="#ff0000"/>
<rect x="156.4" y="51.0" width="16" height="16" fill="#ff0000"/>
<rect x="260.5" y="103.7" width="16" height="16" fill="#ff0000"/>
<rect x="269.1" y="106.4" width="16" height="16" fill="#ff0000"/>
<rect x="276.9" y="101.4" width="16" height="16" fill="#ff0000"/>
<rect x="358.0" y="96.4" width="16" height="16" fill="#ff0000"/>
<rect x="381.4" y="152.1" width="16" height="16" fill="#ff0000"/>
<rect x="463.1" y="163.6" width="16" height="16" fill="#ff0000"/>
<rect x="369.5" y="192.9" width="16" height="16" fill="#ff0000"/>
<rect x="385.9" y="204.4" width="16" height="16" fill="#ff0000"/>
<rect x="403.2" y="207.4" width="16" height="16" fill="#ff0000"/>
<rect x="447.6" y="211.6" width="16" height="16" fill="#ff0000"/>
<rect x="460.6" y="218.0" width="16" height="16" fill="#ff0000"/>
<rect x="263.1" y="207.9" width="16" height="16" fill="#ff0000"/>
<rect x="278.5" y="205.9" width="16" height="16" fill="#ff0000"/>
<rect x="304.0" y="212.0" width="16" height="16" fill="#ff0000"/>
<rect x="301.9" y="219.0" width="16" height="16" fill="#ff0000"/>
<rect x="324.5" y="224.0" width="16" height="16" fill="#ff0000"/>
<rect x="146.8" y="253.0" width="16" height="16" fill="#ff0000"/>
<rect x="147.9" y="254.3" width="16" height="16" fill="#ff0000"/>
<rect x="157.9" y="258.7" width="16" height="16" fill="#ff0000"/>
<rect x="193.0" y="237.2" width="16" height="16" fill="#ff0000"/>
<rect x="234.8" y="232.9" width="16" height="16" fill="#ff0000"/>
<rect x="220.8" y="238.9" width="16" height="16" fill="#ff0000"/>
<rect x="217.0" y="250.7" width="16" height="16" fill="#ff0000"/>
<rect x="193.7" y="270.6" width="16" height="16" fill="#ff0000"/>
<rect x="283.9" y="351.9" width="16" height="16" fill="#ff0000"/>
<rect x="241.0" y="377.9" width="16" height="16" fill="#ff0000"/>
<rect x="407.4" y="293.5" width="16" height="16" fill="#00ff00"/>
<rect x="423.0" y="303.9" width="16" height="16" fill="#00ff00"/>
<rect x="450.3" y="309.4" width="16" height="16" fill="#00ff00"/>
<rect x="463.6" y="313.8" width="16" height="16" fill="#00ff00"/>
<rect x="469.1" y="315.5" width="16" height="16" fill="#00ff00"/>
<rect x="475.0" y="317.6" width="16" height="16" fill="#00ff00"/>
<rect x="483.0" y="322.3" width="16" height="16" fill="#00ff00"/>
<rect x="501.1" y="323.4" width="16" height="16" fill="#00ff00"/>
<rect x="549.2" y="342.4" width="16" height="16" fill="#00ff00"/>
<rect x="392.0" y="381.8" width="16" height="16" fill="#00ff00"/>
<rect x="407.9" y="381.8" width="16" height="16" fill="#00ff00"/>
<path d="M343.6 285.2L349.4 279.4L342.9 281.0Z M342.9 281.0L349.4 279.4L355.2 273.9L348.6 277.0Z M338.2 293.8L344.3 287.8L337.6 288.8Z M337.6 288.8L344.3 287.8L350.3 282.0L343.6 285.2Z M343.6 285.2L350.3 282.0L356.1 276.2L349.4 279.4Z M349.4 279.4L356.1 276.2L361.9 270.6L355.2 273.9Z M332.4 302.6L338.8 296.8L331.9 297.0Z M331.9 297.0L338.8 296.8L345.0 290.6L338.2 293.8Z M338.2 293.8L345.0 290.6L351.1 284.6L344.3 287.8Z M344.3 287.8L351.1 284.6L357.1 278.7L350.3 282.0Z M350.3 282.0L357.1 278.7L363.0 272.9L356.1 276.2Z M356.1 276.2L363.0 272.9L368.8 267.3L361.9 270.6Z M326.3 311.8L332.9 306.3L325.9 305.8Z M325.9 305.8L332.9 306.3L339.5 299.9L332.4 302.6Z M332.4 302.6L339.5 299.9L345.8 293.6L338.8 296.8Z M338.8 296.8L345.8 293.6L352.1 287.4L345.0 290.6Z M345.0 290.6L352.1 287.4L358.2 281.3L351.1 284.6Z M351.1 284.6L358.2 281.3L364.2 275.4L357.1 278.7Z M357.1 278.7L364.2 275.4L370.1 269.6L363.0 272.9Z M363.0 272.9L370.1 269.6L375.8 263.8L368.8 267.3Z M319.7 321.7L326.7 316.6L319.4 315.2Z M319.4 315.2L326.7 316.6L333.5 309.8L326.3 311.8Z M326.3 311.8L333.5 309.8L340.1 303.2L332.9 306.3Z M332.9 306.3L340.1 303.2L346.7 296.7L339.5 299.9Z M339.5 299.9L346.7 296.7L353.0 290.3L345.8 293.6Z M345.8 293.6L353.0 290.3L359.3 284.1L352.1 287.4Z M352.1 287.4L359.3 284.1L365.4 277.9L358.2 281.3Z M358.2 281.3L365.4 277.9L371.4 272.0L364.2 275.4Z M364.2 275.4L371.4 272.0L377.3 266.1L370.1 269.6Z M370.1 269.6L377.3 266.1L383.1 260.3L375.8 263.8Z M319.9 327.6L327.1 320.4L319.7 321.7Z M319.7 321.7L327.1 320.4L334.0 313.4L326.7 316.6Z M326.7 316.6L334.0 313.4L340.9 306.6L333.5 309.8Z M333.5 309.8L340.9 306.6L347.5 299.9L340.1 303.2Z M340.1 303.2L347.5 299.9L354.1 293.3L346.7 296.7Z M346.7 296.7L354.1 293.3L360.4 286.9L353.0 290.3Z M353.0 290.3L360.4 286.9L366.7 280.6L359.3 284.1Z M359.3 284.1L366.7 280.6L372.8 274.5L365.4 277.9Z M365.4 277.9L372.8 274.5L378.8 268.4L371.4 272.0Z M371.4 272.0L378.8 268.4L384.7 262.5L377.3 266.1Z M377.3 266.1L384.7 262.5L390.5 256.7L383.1 260.3Z M312.7 339.5L320.2 331.9L312.6 332.4Z M312.6 332.4L320.2 331.9L327.5 324.5L319.9 327.6Z M319.9 327.6L327.5 324.5L334.6 317.3L327.1 320.4Z M327.1 320.4L334.6 317.3L341.6 310.2L334.0 313.4Z M334.0 313.4L341.6 310.2L348.4 303.3L340.9 306.6Z M340.9 306.6L348.4 303.3L355.1 296.5L347.5 299.9Z M347.5 299.9L355.1 296.5L361.7 289.9L354.1 293.3Z M354.1 293.3L361.7 289.9L368.1 283.4L360.4 286.9Z M360.4 286.9L368.1 283.4L374.3 277.1L366.7 280.6Z M366.7 280.6L374.3 277.1L380.5 270.9L372.8 274.5Z M372.8 274.5L380.5 270.9L386.5 264.8L378.8 268.4Z M378.8 268.4L386.5 264.8L392.3 258.9L384.7 262.5Z M384.7 262.5L392.3 258.9L398.1 253.0L390.5 256.7Z M304.8 351.8L312.7 344.3L304.9 343.8Z M304.9 343.8L312.7 344.3L320.4 336.4L312.7 339.5Z M312.7 339.5L320.4 336.4L327.9 328.8L320.2 331.9Z M320.2 331.9L327.9 328.8L335.2 321.3L327.5 324.5Z M327.5 324.5L335.2 321.3L342.4 314.0L334.6 317.3Z M334.6 317.3L342.4 314.0L349.4 306.9L341.6 310.2Z M341.6 310.2L349.4 306.9L356.2 299.9L348.4 303.3Z M348.4 303.3L356.2 299.9L362.9 293.1L355.1 296.5Z M355.1 296.5L362.9 293.1L369.5 286.4L361.7 289.9Z M361.7 289.9L369.5 286.4L375.9 279.9L368.1 283.4Z M368.1 283.4L375.9 279.9L382.2 273.5L374.3 277.1Z M374.3 277.1L382.2 273.5L388.3 267.2L380.5 270.9Z M380.5 270.9L388.3 267.2L394.3 261.1L386.5 264.8Z M386.5 264.8L394.3 261.1L400.2 255.1L392.3 258.9Z M392.3 258.9L400.2 255.1L405.9 249.3L398.1 253.0Z M296.3 364.9L304.6 357.6L296.6 356.3Z M296.6 356.3L304.6 357.6L312.7 349.3L304.8 351.8Z M304.8 351.8L312.7 349.3L320.6 341.2L312.7 344.3Z M312.7 344.3L320.6 341.2L328.4 333.3L320.4 336.4Z M320.4 336.4L328.4 333.3L335.9 325.6L327.9 328.8Z M327.9 328.8L335.9 325.6L343.2 318.0L335.2 321.3Z M335.2 321.3L343.2 318.0L350.4 310.6L342.4 314.0Z M342.4 314.0L350.4 310.6L357.4 303.4L349.4 306.9Z M349.4 306.9L357.4 303.4L364.3 296.4L356.2 299.9Z M356.2 299.9L364.3 296.4L371.0 289.5L362.9 293.1Z M362.9 293.1L371.0 289.5L377.5 282.8L369.5 286.4Z M369.5 286.4L377.5 282.8L384.0 276.2L375.9 279.9Z M375.9 279.9L384.0 276.2L390.2 269.8L382.2 273.5Z M382.2 273.5L390.2 269.8L396.4 263.5L388.3 267.2Z M388.3 267.2L396.4 263.5L402.4 257.3L394.3 261.1Z M394.3 261.1L402.4 257.3L408.2 251.3L400.2 255.1Z M400.2 255.1L408.2 251.3L414.0 245.4L405.9 249.3Z M287.0 379.1L295.9 372.2L287.6 369.8Z M287.6 369.8L295.9 372.2L304.4 363.3L296.3 364.9Z M296.3 364.9L304.4 363.3L312.8 354.7L304.6 357.6Z M304.6 357.6L312.8 354.7L320.9 346.3L312.7 349.3Z M312.7 349.3L320.9 346.3L328.8 338.1L320.6 341.2Z M320.6 341.2L328.8 338.1L336.6 330.0L328.4 333.3Z M328.4 333.3L336.6 330.0L344.1 322.2L335.9 325.6Z M335.9 325.6L344.1 322.2L351.5 314.6L343.2 318.0Z M343.2 318.0L351.5 314.6L358.7 307.2L350.4 310.6Z M350.4 310.6L358.7 307.2L365.7 299.9L357.4 303.4Z M357.4 303.4L365.7 299.9L372.6 292.8L364.3 296.4Z M364.3 296.4L372.6 292.8L379.3 285.8L371.0 289.5Z M371.0 289.5L379.3 285.8L385.8 279.0L377.5 282.8Z M377.5 282.8L385.8 279.0L392.2 272.4L384.0 276.2Z M384.0 276.2L392.2 272.4L398.5 265.9L390.2 269.8Z M390.2 269.8L398.5 265.9L404.6 259.6L396.4 263.5Z M396.4 263.5L404.6 259.6L410.6 253.4L402.4 257.3Z M402.4 257.3L410.6 253.4L416.5 247.3L408.2 251.3Z M408.2 251.3L416.5 247.3L422.2 241.4L414.0 245.4Z M286.3 388.0L295.4 378.6L287.0 379.1Z M287.0 379.1L295.4 378.6L304.2 369.3L295.9 372.2Z M295.9 372.2L304.2 369.3L312.8 360.4L304.4 363.3Z M304.4 363.3L312.8 360.4L321.2 351.6L312.8 354.7Z M312.8 354.7L321.2 351.6L329.3 343.1L320.9 346.3Z M320.9 346.3L329.3 343.1L337.3 334.8L328.8 338.1Z M328.8 338.1L337.3 334.8L345.1 326.7L336.6 330.0Z M336.6 330.0L345.1 326.7L352.6 318.8L344.1 322.2Z M344.1 322.2L352.6 318.8L360.0 311.1L351.5 314.6Z M351.5 314.6L360.0 311.1L367.2 303.6L358.7 307.2Z M358.7 307.2L367.2 303.6L374.2 296.2L365.7 299.9Z M365.7 299.9L374.2 296.2L381.1 289.1L372.6 292.8Z M372.6 292.8L381.1 289.1L387.8 282.1L379.3 285.8Z M379.3 285.8L387.8 282.1L394.4 275.2L385.8 279.0Z M385.8 279.0L394.4 275.2L400.8 268.5L392.2 272.4Z M392.2 272.4L400.8 268.5L407.0 262.0L398.5 265.9Z M398.5 265.9L407.0 262.0L413.2 255.6L404.6 259.6Z M404.6 259.6L413.2 255.6L419.1 249.3L410.6 253.4Z M410.6 253.4L419.1 249.3L425.0 243.2L416.5 247.3Z M416.5 247.3L425.0 243.2L430.7 237.2L422.2 241.4Z M275.8 405.4L285.5 395.2L276.8 394.7Z M276.8 394.7L285.5 395.2L294.9 385.3L286.3 388.0Z M286.3 388.0L294.9 385.3L304.0 375.7L295.4 378.6Z M295.4 378.6L304.0 375.7L312.8 366.4L304.2 369.3Z M304.2 369.3L312.8 366.4L321.5 357.3L312.8 360.4Z M312.8 360.4L321.5 357.3L329.9 348.5L321.2 351.6Z M321.2 351.6L329.9 348.5L338.1 339.8L329.3 343.1Z M329.3 343.1L338.1 339.8L346.0 331.4L337.3 334.8Z M337.3 334.8L346.0 331.4L353.8 323.2L345.1 326.7Z M345.1 326.7L353.8 323.2L361.4 315.3L352.6 318.8Z M352.6 318.8L361.4 315.3L368.8 307.5L360.0 311.1Z M360.0 311.1L368.8 307.5L376.0 299.9L367.2 303.6Z M367.2 303.6L376.0 299.9L383.0 292.5L374.2 296.2Z M374.2 296.2L383.0 292.5L389.9 285.2L381.1 289.1Z M381.1 289.1L389.9 285.2L396.6 278.2L387.8 282.1Z M387.8 282.1L396.6 278.2L403.2 271.3L394.4 275.2Z M394.4 275.2L403.2 271.3L409.6 264.5L400.8 268.5Z M400.8 268.5L409.6 264.5L415.8 257.9L407.0 262.0Z M407.0 262.0L415.8 257.9L421.9 251.5L413.2 255.6Z M413.2 255.6L421.9 251.5L427.9 245.2L419.1 249.3Z M419.1 249.3L427.9 245.2L433.7 239.0L425.0 243.2Z M425.0 243.2L433.7 239.0L439.5 233.0L430.7 237.2Z M264.3 423.8L274.6 413.5L265.7 411.8Z M265.7 411.8L274.6 413.5L284.6 402.9L275.8 405.4Z M275.8 405.4L284.6 402.9L294.3 392.6L285.5 395.2Z M285.5 395.2L294.3 392.6L303.7 382.6L294.9 385.3Z M294.9 385.3L303.7 382.6L312.9 372.8L304.0 375.7Z M304.0 375.7L312.9 372.8L321.8 363.4L312.8 366.4Z M312.8 366.4L321.8 363.4L330.4 354.1L321.5 357.3Z M321.5 357.3L330.4 354.1L338.9 345.2L329.9 348.5Z M329.9 348.5L338.9 345.2L347.1 336.4L338.1 339.8Z M338.1 339.8L347.1 336.4L355.1 327.9L346.0 331.4Z M346.0 331.4L355.1 327.9L362.9 319.7L353.8 323.2Z M353.8 323.2L362.9 319.7L370.5 311.6L361.4 315.3Z M361.4 315.3L370.5 311.6L377.9 303.7L368.8 307.5Z M368.8 307.5L377.9 303.7L385.1 296.1L376.0 299.9Z M376.0 299.9L385.1 296.1L392.1 288.6L383.0 292.5Z M383.0 292.5L392.1 288.6L399.0 281.3L389.9 285.2Z M389.9 285.2L399.0 281.3L405.7 274.1L396.6 278.2Z M396.6 278.2L405.7 274.1L412.2 267.2L403.2 271.3Z M403.2 271.3L412.2 267.2L418.6 260.4L409.6 264.5Z M409.6 264.5L418.6 260.4L424.9 253.8L415.8 257.9Z M415.8 257.9L424.9 253.8L431.0 247.3L421.9 251.5Z M421.9 251.5L431.0 247.3L436.9 240.9L427.9 245.2Z M427.9 245.2L436.9 240.9L442.7 234.7L433.7 239.0Z M433.7 239.0L442.7 234.7L448.4 228.7L439.5 233.0Z M253.4 430.6L262.7 433.7L273.3 422.2L264.3 423.8Z M264.3 423.8L273.3 422.2L283.7 411.1L274.6 413.5Z M274.6 413.5L283.7 411.1L293.7 400.3L284.6 402.9Z M284.6 402.9L293.7 400.3L303.5 389.8L294.3 392.6Z M294.3 392.6L303.5 389.8L312.9 379.7L303.7 382.6Z M303.7 382.6L312.9 379.7L322.1 369.8L312.9 372.8Z M312.9 372.8L322.1 369.8L331.1 360.2L321.8 363.4Z M321.8 363.4L331.1 360.2L339.7 350.9L330.4 354.1Z M330.4 354.1L339.7 350.9L348.2 341.8L338.9 345.2Z M338.9 345.2L348.2 341.8L356.4 332.9L347.1 336.4Z M347.1 336.4L356.4 332.9L364.4 324.3L355.1 327.9Z M355.1 327.9L364.4 324.3L372.2 316.0L362.9 319.7Z M362.9 319.7L372.2 316.0L379.8 307.8L370.5 311.6Z M370.5 311.6L379.8 307.8L387.2 299.9L377.9 303.7Z M377.9 303.7L387.2 299.9L394.4 292.1L385.1 296.1Z M385.1 296.1L394.4 292.1L401.5 284.6L392.1 288.6Z M392.1 288.6L401.5 284.6L408.3 277.2L399.0 281.3Z M399.0 281.3L408.3 277.2L415.0 270.0L405.7 274.1Z M405.7 274.1L415.0 270.0L421.6 263.0L412.2 267.2Z M412.2 267.2L421.6 263.0L427.9 256.1L418.6 260.4Z M418.6 260.4L427.9 256.1L434.2 249.4L424.9 253.8Z M424.9 253.8L434.2 249.4L440.3 242.9L431.0 247.3Z M431.0 247.3L440.3 242.9L446.2 236.5L436.9 240.9Z M436.9 240.9L446.2 236.5L452.0 230.3L442.7 234.7Z M442.7 234.7L452.0 230.3L457.7 224.2L448.4 228.7Z M262.7 433.7L271.9 431.5L282.7 419.9L273.3 422.2Z M273.3 422.2L282.7 419.9L293.1 408.6L283.7 411.1Z M283.7 411.1L293.1 408.6L303.2 397.6L293.7 400.3Z M293.7 400.3L303.2 397.6L313.0 387.0L303.5 389.8Z M303.5 389.8L313.0 387.0L322.5 376.7L312.9 379.7Z M312.9 379.7L322.5 376.7L331.7 366.6L322.1 369.8Z M322.1 369.8L331.7 366.6L340.7 356.9L331.1 360.2Z M331.1 360.2L340.7 356.9L349.4 347.5L339.7 350.9Z M339.7 350.9L349.4 347.5L357.9 338.3L348.2 341.8Z M348.2 341.8L357.9 338.3L366.1 329.3L356.4 332.9Z M356.4 332.9L366.1 329.3L374.1 320.6L364.4 324.3Z M364.4 324.3L374.1 320.6L381.9 312.2L372.2 316.0Z M372.2 316.0L381.9 312.2L389.5 303.9L379.8 307.8Z M379.8 307.8L389.5 303.9L396.9 295.9L387.2 299.9Z M387.2 299.9L396.9 295.9L404.1 288.0L394.4 292.1Z M394.4 292.1L404.1 288.0L411.1 280.4L401.5 284.6Z M401.5 284.6L411.1 280.4L418.0 273.0L408.3 277.2Z M408.3 277.2L418.0 273.0L424.7 265.7L415.0 270.0Z M415.0 270.0L424.7 265.7L431.2 258.7L421.6 263.0Z M421.6 263.0L431.2 258.7L437.6 251.8L427.9 256.1Z M427.9 256.1L437.6 251.8L443.8 245.0L434.2 249.4Z M434.2 249.4L443.8 245.0L449.8 238.4L440.3 242.9Z M440.3 242.9L449.8 238.4L455.8 232.0L446.2 236.5Z M446.2 236.5L455.8 232.0L461.5 225.7L452.0 230.3Z M452.0 230.3L461.5 225.7L467.2 219.6L457.7 224.2Z M271.9 431.5L281.6 429.3L292.4 417.5L282.7 419.9Z M282.7 419.9L292.4 417.5L302.9 406.0L293.1 408.6Z M293.1 408.6L302.9 406.0L313.0 394.8L303.2 397.6Z M303.2 397.6L313.0 394.8L322.9 384.0L313.0 387.0Z M313.0 387.0L322.9 384.0L332.4 373.6L322.5 376.7Z M322.5 376.7L332.4 373.6L341.7 363.4L331.7 366.6Z M331.7 366.6L341.7 363.4L350.7 353.5L340.7 356.9Z M340.7 356.9L350.7 353.5L359.4 343.9L349.4 347.5Z M349.4 347.5L359.4 343.9L367.9 334.6L357.9 338.3Z M357.9 338.3L367.9 334.6L376.1 325.6L366.1 329.3Z M366.1 329.3L376.1 325.6L384.1 316.8L374.1 320.6Z M374.1 320.6L384.1 316.8L391.9 308.2L381.9 312.2Z M381.9 312.2L391.9 308.2L399.5 299.9L389.5 303.9Z M389.5 303.9L399.5 299.9L406.9 291.7L396.9 295.9Z M396.9 295.9L406.9 291.7L414.1 283.8L404.1 288.0Z M404.1 288.0L414.1 283.8L421.1 276.1L411.1 280.4Z M411.1 280.4L421.1 276.1L428.0 268.6L418.0 273.0Z M418.0 273.0L428.0 268.6L434.6 261.3L424.7 265.7Z M424.7 265.7L434.6 261.3L441.1 254.2L431.2 258.7Z M431.2 258.7L441.1 254.2L447.5 247.2L437.6 251.8Z M437.6 251.8L447.5 247.2L453.7 240.4L443.8 245.0Z M443.8 245.0L453.7 240.4L459.7 233.8L449.8 238.4Z M449.8 238.4L459.7 233.8L465.6 227.3L455.8 232.0Z M455.8 232.0L465.6 227.3L471.4 221.0L461.5 225.7Z M461.5 225.7L471.4 221.0L477.0 214.8L467.2 219.6Z M281.6 429.3L291.7 427.0L302.6 414.9L292.4 417.5Z M292.4 417.5L302.6 414.9L313.1 403.2L302.9 406.0Z M302.9 406.0L313.1 403.2L323.3 391.9L313.0 394.8Z M313.0 394.8L323.3 391.9L333.1 380.9L322.9 384.0Z M322.9 384.0L333.1 380.9L342.7 370.3L332.4 373.6Z M332.4 373.6L342.7 370.3L352.0 360.0L341.7 363.4Z M341.7 363.4L352.0 360.0L361.0 350.0L350.7 353.5Z M350.7 353.5L361.0 350.0L369.8 340.3L359.4 343.9Z M359.4 343.9L369.8 340.3L378.3 330.8L367.9 334.6Z M367.9 334.6L378.3 330.8L386.5 321.7L376.1 325.6Z M376.1 325.6L386.5 321.7L394.5 312.8L384.1 316.8Z M384.1 316.8L394.5 312.8L402.3 304.1L391.9 308.2Z M391.9 308.2L402.3 304.1L409.9 295.7L399.5 299.9Z M399.5 299.9L409.9 295.7L417.3 287.5L406.9 291.7Z M406.9 291.7L417.3 287.5L424.5 279.5L414.1 283.8Z M414.1 283.8L424.5 279.5L431.5 271.7L421.1 276.1Z M421.1 276.1L431.5 271.7L438.3 264.1L428.0 268.6Z M428.0 268.6L438.3 264.1L444.9 256.8L434.6 261.3Z M434.6 261.3L444.9 256.8L451.4 249.6L441.1 254.2Z M441.1 254.2L451.4 249.6L457.7 242.6L447.5 247.2Z M447.5 247.2L457.7 242.6L463.9 235.7L453.7 240.4Z M453.7 240.4L463.9 235.7L469.9 229.0L459.7 233.8Z M459.7 233.8L469.9 229.0L475.8 222.5L465.6 227.3Z M465.6 227.3L475.8 222.5L481.5 216.2L471.4 221.0Z M471.4 221.0L481.5 216.2L487.1 209.9L477.0 214.8Z M291.7 427.0L302.2 424.6L313.1 412.3L302.6 414.9Z M302.6 414.9L313.1 412.3L323.7 400.4L313.1 403.2Z M313.1 403.2L323.7 400.4L333.9 388.9L323.3 391.9Z M323.3 391.9L333.9 388.9L343.9 377.7L333.1 380.9Z M333.1 380.9L343.9 377.7L353.5 366.9L342.7 370.3Z M342.7 370.3L353.5 366.9L362.8 356.5L352.0 360.0Z M352.0 360.0L362.8 356.5L371.8 346.3L361.0 350.0Z M361.0 350.0L371.8 346.3L380.5 336.5L369.8 340.3Z M369.8 340.3L380.5 336.5L389.0 326.9L378.3 330.8Z M378.3 330.8L389.0 326.9L397.3 317.6L386.5 321.7Z M386.5 321.7L397.3 317.6L405.3 308.6L394.5 312.8Z M394.5 312.8L405.3 308.6L413.1 299.9L402.3 304.1Z M402.3 304.1L413.1 299.9L420.7 291.3L409.9 295.7Z M409.9 295.7L420.7 291.3L428.0 283.0L417.3 287.5Z M417.3 287.5L428.0 283.0L435.2 275.0L424.5 279.5Z M424.5 279.5L435.2 275.0L442.2 267.1L431.5 271.7Z M431.5 271.7L442.2 267.1L449.0 259.5L438.3 264.1Z M438.3 264.1L449.0 259.5L455.6 252.0L444.9 256.8Z M444.9 256.8L455.6 252.0L462.0 244.8L451.4 249.6Z M451.4 249.6L462.0 244.8L468.3 237.7L457.7 242.6Z M457.7 242.6L468.3 237.7L474.4 230.8L463.9 235.7Z M463.9 235.7L474.4 230.8L480.4 224.1L469.9 229.0Z M469.9 229.0L480.4 224.1L486.3 217.6L475.8 222.5Z M475.8 222.5L486.3 217.6L491.9 211.2L481.5 216.2Z M481.5 216.2L491.9 211.2L497.5 204.9L487.1 209.9Z M302.2 424.6L313.2 422.1L324.2 409.5L313.1 412.3Z M313.1 412.3L324.2 409.5L334.8 397.4L323.7 400.4Z M323.7 400.4L334.8 397.4L345.1 385.7L333.9 388.9Z M333.9 388.9L345.1 385.7L355.0 374.4L343.9 377.7Z M343.9 377.7L355.0 374.4L364.6 363.4L353.5 366.9Z M353.5 366.9L364.6 363.4L374.0 352.8L362.8 356.5Z M362.8 356.5L374.0 352.8L383.0 342.5L371.8 346.3Z M371.8 346.3L383.0 342.5L391.7 332.5L380.5 336.5Z M380.5 336.5L391.7 332.5L400.2 322.8L389.0 326.9Z M389.0 326.9L400.2 322.8L408.5 313.4L397.3 317.6Z M397.3 317.6L408.5 313.4L416.5 304.3L405.3 308.6Z M405.3 308.6L416.5 304.3L424.3 295.4L413.1 299.9Z M413.1 299.9L424.3 295.4L431.8 286.8L420.7 291.3Z M420.7 291.3L431.8 286.8L439.2 278.5L428.0 283.0Z M428.0 283.0L439.2 278.5L446.3 270.3L435.2 275.0Z M435.2 275.0L446.3 270.3L453.2 262.4L442.2 267.1Z M442.2 267.1L453.2 262.4L460.0 254.7L449.0 259.5Z M449.0 259.5L460.0 254.7L466.6 247.2L455.6 252.0Z M455.6 252.0L466.6 247.2L473.0 239.9L462.0 244.8Z M462.0 244.8L473.0 239.9L479.3 232.7L468.3 237.7Z M468.3 237.7L479.3 232.7L485.3 225.8L474.4 230.8Z M474.4 230.8L485.3 225.8L491.3 219.0L480.4 224.1Z M480.4 224.1L491.3 219.0L497.1 212.4L486.3 217.6Z M486.3 217.6L497.1 212.4L502.7 206.0L491.9 211.2Z M491.9 211.2L502.7 206.0L508.2 199.7L497.5 204.9Z M313.2 422.1L324.7 419.4L335.7 406.7L324.2 409.5Z M324.2 409.5L335.7 406.7L346.4 394.3L334.8 397.4Z M334.8 397.4L346.4 394.3L356.7 382.4L345.1 385.7Z M345.1 385.7L356.7 382.4L366.7 370.9L355.0 374.4Z M355.0 374.4L366.7 370.9L376.3 359.8L364.6 363.4Z M364.6 363.4L376.3 359.8L385.6 349.0L374.0 352.8Z M374.0 352.8L385.6 349.0L394.6 338.5L383.0 342.5Z M383.0 342.5L394.6 338.5L403.4 328.4L391.7 332.5Z M391.7 332.5L403.4 328.4L411.9 318.6L400.2 322.8Z M400.2 322.8L411.9 318.6L420.1 309.1L408.5 313.4Z M408.5 313.4L420.1 309.1L428.1 299.8L416.5 304.3Z M416.5 304.3L428.1 299.8L435.8 290.9L424.3 295.4Z M424.3 295.4L435.8 290.9L443.4 282.2L431.8 286.8Z M431.8 286.8L443.4 282.2L450.7 273.7L439.2 278.5Z M439.2 278.5L450.7 273.7L457.8 265.5L446.3 270.3Z M446.3 270.3L457.8 265.5L464.7 257.5L453.2 262.4Z M453.2 262.4L464.7 257.5L471.4 249.7L460.0 254.7Z M460.0 254.7L471.4 249.7L478.0 242.1L466.6 247.2Z M466.6 247.2L478.0 242.1L484.4 234.8L473.0 239.9Z M473.0 239.9L484.4 234.8L490.6 227.6L479.3 232.7Z M479.3 232.7L490.6 227.6L496.6 220.6L485.3 225.8Z M485.3 225.8L496.6 220.6L502.5 213.8L491.3 219.0Z M491.3 219.0L502.5 213.8L508.2 207.1L497.1 212.4Z M497.1 212.4L508.2 207.1L513.8 200.7L502.7 206.0Z M502.7 206.0L513.8 200.7L519.3 194.3L508.2 199.7Z M324.7 419.4L336.7 416.7L347.8 403.7L335.7 406.7Z M335.7 406.7L347.8 403.7L358.5 391.1L346.4 394.3Z M346.4 394.3L358.5 391.1L368.8 379.0L356.7 382.4Z M356.7 382.4L368.8 379.0L378.8 367.3L366.7 370.9Z M366.7 370.9L378.8 367.3L388.4 356.0L376.3 359.8Z M376.3 359.8L388.4 356.0L397.8 345.0L385.6 349.0Z M385.6 349.0L397.8 345.0L406.8 334.4L394.6 338.5Z M394.6 338.5L406.8 334.4L415.5 324.1L403.4 328.4Z M403.4 328.4L415.5 324.1L424.0 314.2L411.9 318.6Z M411.9 318.6L424.0 314.2L432.2 304.6L420.1 309.1Z M420.1 309.1L432.2 304.6L440.2 295.2L428.1 299.8Z M428.1 299.8L440.2 295.2L447.9 286.1L435.8 290.9Z M435.8 290.9L447.9 286.1L455.4 277.3L443.4 282.2Z M443.4 282.2L455.4 277.3L462.7 268.8L450.7 273.7Z M450.7 273.7L462.7 268.8L469.7 260.5L457.8 265.5Z M457.8 265.5L469.7 260.5L476.6 252.4L464.7 257.5Z M464.7 257.5L476.6 252.4L483.3 244.5L471.4 249.7Z M471.4 249.7L483.3 244.5L489.8 236.9L478.0 242.1Z M478.0 242.1L489.8 236.9L496.1 229.5L484.4 234.8Z M484.4 234.8L496.1 229.5L502.3 222.3L490.6 227.6Z M490.6 227.6L502.3 222.3L508.3 215.2L496.6 220.6Z M496.6 220.6L508.3 215.2L514.1 208.4L502.5 213.8Z M502.5 213.8L514.1 208.4L519.8 201.7L508.2 207.1Z M508.2 207.1L519.8 201.7L525.3 195.2L513.8 200.7Z M513.8 200.7L525.3 195.2L530.7 188.8L519.3 194.3Z M336.7 416.7L349.4 413.8L360.5 400.5L347.8 403.7Z M347.8 403.7L360.5 400.5L371.2 387.7L358.5 391.1Z M358.5 391.1L371.2 387.7L381.5 375.4L368.8 379.0Z M368.8 379.0L381.5 375.4L391.5 363.5L378.8 367.3Z M378.8 367.3L391.5 363.5L401.1 352.0L388.4 356.0Z M388.4 356.0L401.1 352.0L410.4 340.8L397.8 345.0Z M397.8 345.0L410.4 340.8L419.4 330.1L406.8 334.4Z M406.8 334.4L419.4 330.1L428.2 319.7L415.5 324.1Z M415.5 324.1L428.2 319.7L436.6 309.6L424.0 314.2Z M424.0 314.2L436.6 309.6L444.8 299.8L432.2 304.6Z M432.2 304.6L444.8 299.8L452.7 290.4L440.2 295.2Z M440.2 295.2L452.7 290.4L460.4 281.2L447.9 286.1Z M447.9 286.1L460.4 281.2L467.8 272.3L455.4 277.3Z M455.4 277.3L467.8 272.3L475.1 263.7L462.7 268.8Z M462.7 268.8L475.1 263.7L482.1 255.3L469.7 260.5Z M469.7 260.5L482.1 255.3L488.9 247.1L476.6 252.4Z M476.6 252.4L488.9 247.1L495.5 239.2L483.3 244.5Z M483.3 244.5L495.5 239.2L502.0 231.5L489.8 236.9Z M489.8 236.9L502.0 231.5L508.3 224.0L496.1 229.5Z M496.1 229.5L508.3 224.0L514.4 216.7L502.3 222.3Z M502.3 222.3L514.4 216.7L520.3 209.6L508.3 215.2Z M508.3 215.2L520.3 209.6L526.1 202.7L514.1 208.4Z M514.1 208.4L526.1 202.7L531.7 196.0L519.8 201.7Z M519.8 201.7L531.7 196.0L537.2 189.5L525.3 195.2Z M525.3 195.2L537.2 189.5L542.5 183.1L530.7 188.8Z M349.4 413.8L362.6 410.7L373.7 397.2L360.5 400.5Z M360.5 400.5L373.7 397.2L384.5 384.2L371.2 387.7Z M371.2 387.7L384.5 384.2L394.8 371.6L381.5 375.4Z M381.5 375.4L394.8 371.6L404.8 359.5L391.5 363.5Z M391.5 363.5L404.8 359.5L414.4 347.8L401.1 352.0Z M401.1 352.0L414.4 347.8L423.7 336.5L410.4 340.8Z M410.4 340.8L423.7 336.5L432.7 325.6L419.4 330.1Z M419.4 330.1L432.7 325.6L441.3 315.0L428.2 319.7Z M428.2 319.7L441.3 315.0L449.7 304.8L436.6 309.6Z M436.6 309.6L449.7 304.8L457.9 294.9L444.8 299.8Z M444.8 299.8L457.9 294.9L465.8 285.3L452.7 290.4Z M452.7 290.4L465.8 285.3L473.4 276.1L460.4 281.2Z M460.4 281.2L473.4 276.1L480.8 267.1L467.8 272.3Z M467.8 272.3L480.8 267.1L488.0 258.3L475.1 263.7Z M475.1 263.7L488.0 258.3L494.9 249.9L482.1 255.3Z M482.1 255.3L494.9 249.9L501.7 241.6L488.9 247.1Z M488.9 247.1L501.7 241.6L508.3 233.7L495.5 239.2Z M495.5 239.2L508.3 233.7L514.7 225.9L502.0 231.5Z M502.0 231.5L514.7 225.9L520.9 218.4L508.3 224.0Z M508.3 224.0L520.9 218.4L526.9 211.0L514.4 216.7Z M514.4 216.7L526.9 211.0L532.8 203.9L520.3 209.6Z M520.3 209.6L532.8 203.9L538.5 196.9L526.1 202.7Z M526.1 202.7L538.5 196.9L544.0 190.2L531.7 196.0Z M531.7 196.0L544.0 190.2L549.5 183.6L537.2 189.5Z M537.2 189.5L549.5 183.6L554.7 177.2L542.5 183.1Z M362.6 410.7L376.5 407.6L387.7 393.8L373.7 397.2Z M373.7 397.2L387.7 393.8L398.4 380.5L384.5 384.2Z M384.5 384.2L398.4 380.5L408.7 367.7L394.8 371.6Z M394.8 371.6L408.7 367.7L418.6 355.3L404.8 359.5Z M404.8 359.5L418.6 355.3L428.2 343.5L414.4 347.8Z M414.4 347.8L428.2 343.5L437.5 332.0L423.7 336.5Z M423.7 336.5L437.5 332.0L446.5 320.9L432.7 325.6Z M432.7 325.6L446.5 320.9L455.1 310.2L441.3 315.0Z M441.3 315.0L455.1 310.2L463.4 299.8L449.7 304.8Z M449.7 304.8L463.4 299.8L471.5 289.8L457.9 294.9Z M457.9 294.9L471.5 289.8L479.4 280.1L465.8 285.3Z M465.8 285.3L479.4 280.1L486.9 270.7L473.4 276.1Z M473.4 276.1L486.9 270.7L494.3 261.6L480.8 267.1Z M480.8 267.1L494.3 261.6L501.4 252.8L488.0 258.3Z M488.0 258.3L501.4 252.8L508.3 244.3L494.9 249.9Z M494.9 249.9L508.3 244.3L515.0 236.0L501.7 241.6Z M501.7 241.6L515.0 236.0L521.5 227.9L508.3 233.7Z M508.3 233.7L521.5 227.9L527.8 220.1L514.7 225.9Z M514.7 225.9L527.8 220.1L533.9 212.5L520.9 218.4Z M520.9 218.4L533.9 212.5L539.9 205.1L526.9 211.0Z M526.9 211.0L539.9 205.1L545.7 197.9L532.8 203.9Z M532.8 203.9L545.7 197.9L551.3 190.9L538.5 196.9Z M538.5 196.9L551.3 190.9L556.8 184.1L544.0 190.2Z M544.0 190.2L556.8 184.1L562.2 177.5L549.5 183.6Z M549.5 183.6L562.2 177.5L567.4 171.1L554.7 177.2Z M376.5 407.6L391.1 404.2L402.3 390.1L387.7 393.8Z M387.7 393.8L402.3 390.1L413.0 376.6L398.4 380.5Z M398.4 380.5L413.0 376.6L423.3 363.5L408.7 367.7Z M408.7 367.7L423.3 363.5L433.2 351.0L418.6 355.3Z M418.6 355.3L433.2 351.0L442.8 338.9L428.2 343.5Z M428.2 343.5L442.8 338.9L452.0 327.2L437.5 332.0Z M437.5 332.0L452.0 327.2L460.9 316.0L446.5 320.9Z M446.5 320.9L460.9 316.0L469.5 305.1L455.1 310.2Z M455.1 310.2L469.5 305.1L477.8 294.6L463.4 299.8Z M463.4 299.8L477.8 294.6L485.8 284.5L471.5 289.8Z M471.5 289.8L485.8 284.5L493.5 274.7L479.4 280.1Z M479.4 280.1L493.5 274.7L501.0 265.2L486.9 270.7Z M486.9 270.7L501.0 265.2L508.3 256.0L494.3 261.6Z M494.3 261.6L508.3 256.0L515.4 247.1L501.4 252.8Z M501.4 252.8L515.4 247.1L522.2 238.4L508.3 244.3Z M508.3 244.3L522.2 238.4L528.8 230.0L515.0 236.0Z M515.0 236.0L528.8 230.0L535.2 221.9L521.5 227.9Z M521.5 227.9L535.2 221.9L541.4 214.0L527.8 220.1Z M527.8 220.1L541.4 214.0L547.5 206.4L533.9 212.5Z M533.9 212.5L547.5 206.4L553.4 198.9L539.9 205.1Z M539.9 205.1L553.4 198.9L559.1 191.7L545.7 197.9Z M545.7 197.9L559.1 191.7L564.6 184.7L551.3 190.9Z M551.3 190.9L564.6 184.7L570.0 177.9L556.8 184.1Z M556.8 184.1L570.0 177.9L575.3 171.2L562.2 177.5Z M562.2 177.5L575.3 171.2L580.4 164.7L567.4 171.1Z" fill="none" stroke="#000" stroke-width="1.85" stroke-linejoin="round"/>
</g>
<g transform="translate(740.6,-7.8)">
<text transform="translate(37.6,217.5) rotate(-96.3)" x="0" y="13.6" font-size="39" font-weight="bold" text-anchor="middle" stroke="#000" stroke-width="0.7">distress score</text>
<text transform="translate(109.2,368.2) rotate(-92.7)" x="0" y="10.5" font-size="30" font-weight="bold" text-anchor="middle" stroke="#000" stroke-width="0.7">0</text>
<text transform="translate(101.4,316.0) rotate(-92.7)" x="0" y="10.5" font-size="30" font-weight="bold" text-anchor="middle" stroke="#000" stroke-width="0.7">1</text>
<text transform="translate(94.3,259.1) rotate(-92.7)" x="0" y="10.5" font-size="30" font-weight="bold" text-anchor="middle" stroke="#000" stroke-width="0.7">2</text>
<text transform="translate(86.9,198.3) rotate(-92.7)" x="0" y="10.5" font-size="30" font-weight="bold" text-anchor="middle" stroke="#000" stroke-width="0.7">3</text>
<text transform="translate(78.1,131.1) rotate(-92.7)" x="0" y="10.5" font-size="30" font-weight="bold" text-anchor="middle" stroke="#000" stroke-width="0.7">4</text>
<text transform="translate(68.7,58.5) rotate(-92.7)" x="0" y="10.5" font-size="30" font-weight="bold" text-anchor="middle" stroke="#000" stroke-width="0.7">5</text>
</g>
<g transform="translate(740,-12)">
<text transform="translate(191.5,506.0) rotate(37)" x="0" y="13.3" font-size="38" font-weight="bold" text-anchor="middle" stroke="#000" stroke-width="0.7">body weight (%)</text>
<text transform="translate(162.7,429.9) rotate(36.5)" x="0" y="10.5" font-size="30" font-weight="bold" text-anchor="middle" stroke="#000" stroke-width="0.7">-5</text>
<text transform="translate(224.8,469.8) rotate(36.5)" x="0" y="10.5" font-size="30" font-weight="bold" text-anchor="middle" stroke="#000" stroke-width="0.7">0</text>
<text transform="translate(295.8,515.8) rotate(36.5)" x="0" y="10.5" font-size="30" font-weight="bold" text-anchor="middle" stroke="#000" stroke-width="0.7">5</text>
</g>
<g transform="translate(742,-9)">
<text transform="translate(495.9,481.2) rotate(-45)" x="0" y="10.5" font-size="30" font-weight="bold" text-anchor="middle" stroke="#000" stroke-width="0.7">-100 -80 -60 -40 -20 0</text>
</g>
<g transform="translate(751,-9)">
<text transform="translate(539.7,507.3) rotate(-46.5)" x="0" y="13.3" font-size="38" font-weight="bold" text-anchor="middle" stroke="#000" stroke-width="0.7">burrowing activity</text>
</g>
<g transform="translate(751,-17)">
<text transform="translate(572.4,549.8) rotate(-45)" x="0" y="13.3" font-size="38" font-weight="bold" text-anchor="middle" stroke="#000" stroke-width="0.7">(%)</text>
</g>
<rect x="54.2" y="679.1" width="35.6" height="31.4" fill="#00ff00"/>
<text x="128" y="709.6" font-size="38.5" font-weight="bold" text-anchor="middle" stroke="#000" stroke-width="0.5">p</text>
<rect x="198.9" y="679.1" width="35.6" height="31.4" fill="#ff0000"/>
<text x="290" y="709.6" font-size="38.5" font-weight="bold" text-anchor="middle" stroke="#000" stroke-width="0.5">a</text>
<rect x="354.4" y="679.1" width="35.6" height="31.4" fill="#ffb900"/>
<text x="451" y="709.6" font-size="38.5" font-weight="bold" text-anchor="middle" stroke="#000" stroke-width="0.5">e</text>
<rect x="499.3" y="679.1" width="35.6" height="31.4" fill="#0000ff"/>
<text x="608" y="709.6" font-size="38.5" font-weight="bold" text-anchor="middle" stroke="#000" stroke-width="0.5">m</text>
<rect x="909.5" y="679.1" width="38.5" height="31.3" fill="#00ff00"/>
<text x="984" y="711.0" font-size="38" font-weight="bold" stroke="#000" stroke-width="0.5">level 0</text>
<rect x="1178" y="679.1" width="38.5" height="31.3" fill="#ff0000"/>
<text x="1239" y="711.0" font-size="38" font-weight="bold" stroke="#000" stroke-width="0.5">level 1</text>
<rect x="15.2" y="811.0" width="1333" height="2" fill="#1a1a1a"/>
<rect x="15.2" y="863.0" width="1333" height="2" fill="#1a1a1a"/>
<rect x="15.2" y="958.6" width="1333" height="2" fill="#1a1a1a"/>
<rect x="15.2" y="1103.0" width="1333" height="2" fill="#1a1a1a"/>
<text x="836.5" y="851.7" font-size="38.5" font-weight="bold" text-anchor="middle">body weight (%) + burrowing activity (%) + distress score</text>
<text x="376" y="901.2" font-size="38.3" text-anchor="middle">not optimized</text>
<text x="376" y="949.8" font-size="38.3" text-anchor="middle">training data</text>
<text x="677.5" y="901.2" font-size="38.3" text-anchor="middle">not optimized</text>
<text x="677.5" y="949.8" font-size="38.3" text-anchor="middle">test data</text>
<text x="978.5" y="901.2" font-size="38.3" text-anchor="middle">optimized</text>
<text x="978.5" y="949.8" font-size="38.3" text-anchor="middle">training data</text>
<text x="1280" y="901.2" font-size="38.3" text-anchor="middle">optimized</text>
<text x="1280" y="949.8" font-size="38.3" text-anchor="middle">test data</text>
<text x="15.5" y="998.2" font-size="38.5" font-weight="bold">accuracy</text>
<text x="376" y="996.4" font-size="38" text-anchor="middle">1</text>
<text x="677.5" y="996.4" font-size="38" text-anchor="middle">1</text>
<text x="978.5" y="996.4" font-size="38" text-anchor="middle">1</text>
<text x="1280" y="996.4" font-size="38" text-anchor="middle">0.85</text>
<text x="15.5" y="1047.2" font-size="38.5" font-weight="bold">sensitivity</text>
<text x="376" y="1044.4" font-size="38" text-anchor="middle">1</text>
<text x="677.5" y="1044.4" font-size="38" text-anchor="middle">1</text>
<text x="978.5" y="1044.4" font-size="38" text-anchor="middle">1</text>
<text x="1280" y="1044.4" font-size="38" text-anchor="middle">1</text>
<text x="15.5" y="1095.7" font-size="38.5" font-weight="bold">specificity</text>
<text x="376" y="1093.2" font-size="38" text-anchor="middle">1</text>
<text x="677.5" y="1093.2" font-size="38" text-anchor="middle">1</text>
<text x="978.5" y="1093.2" font-size="38" text-anchor="middle">1</text>
<text x="1280" y="1093.2" font-size="38" text-anchor="middle">0.80</text>
</svg></body></html>
